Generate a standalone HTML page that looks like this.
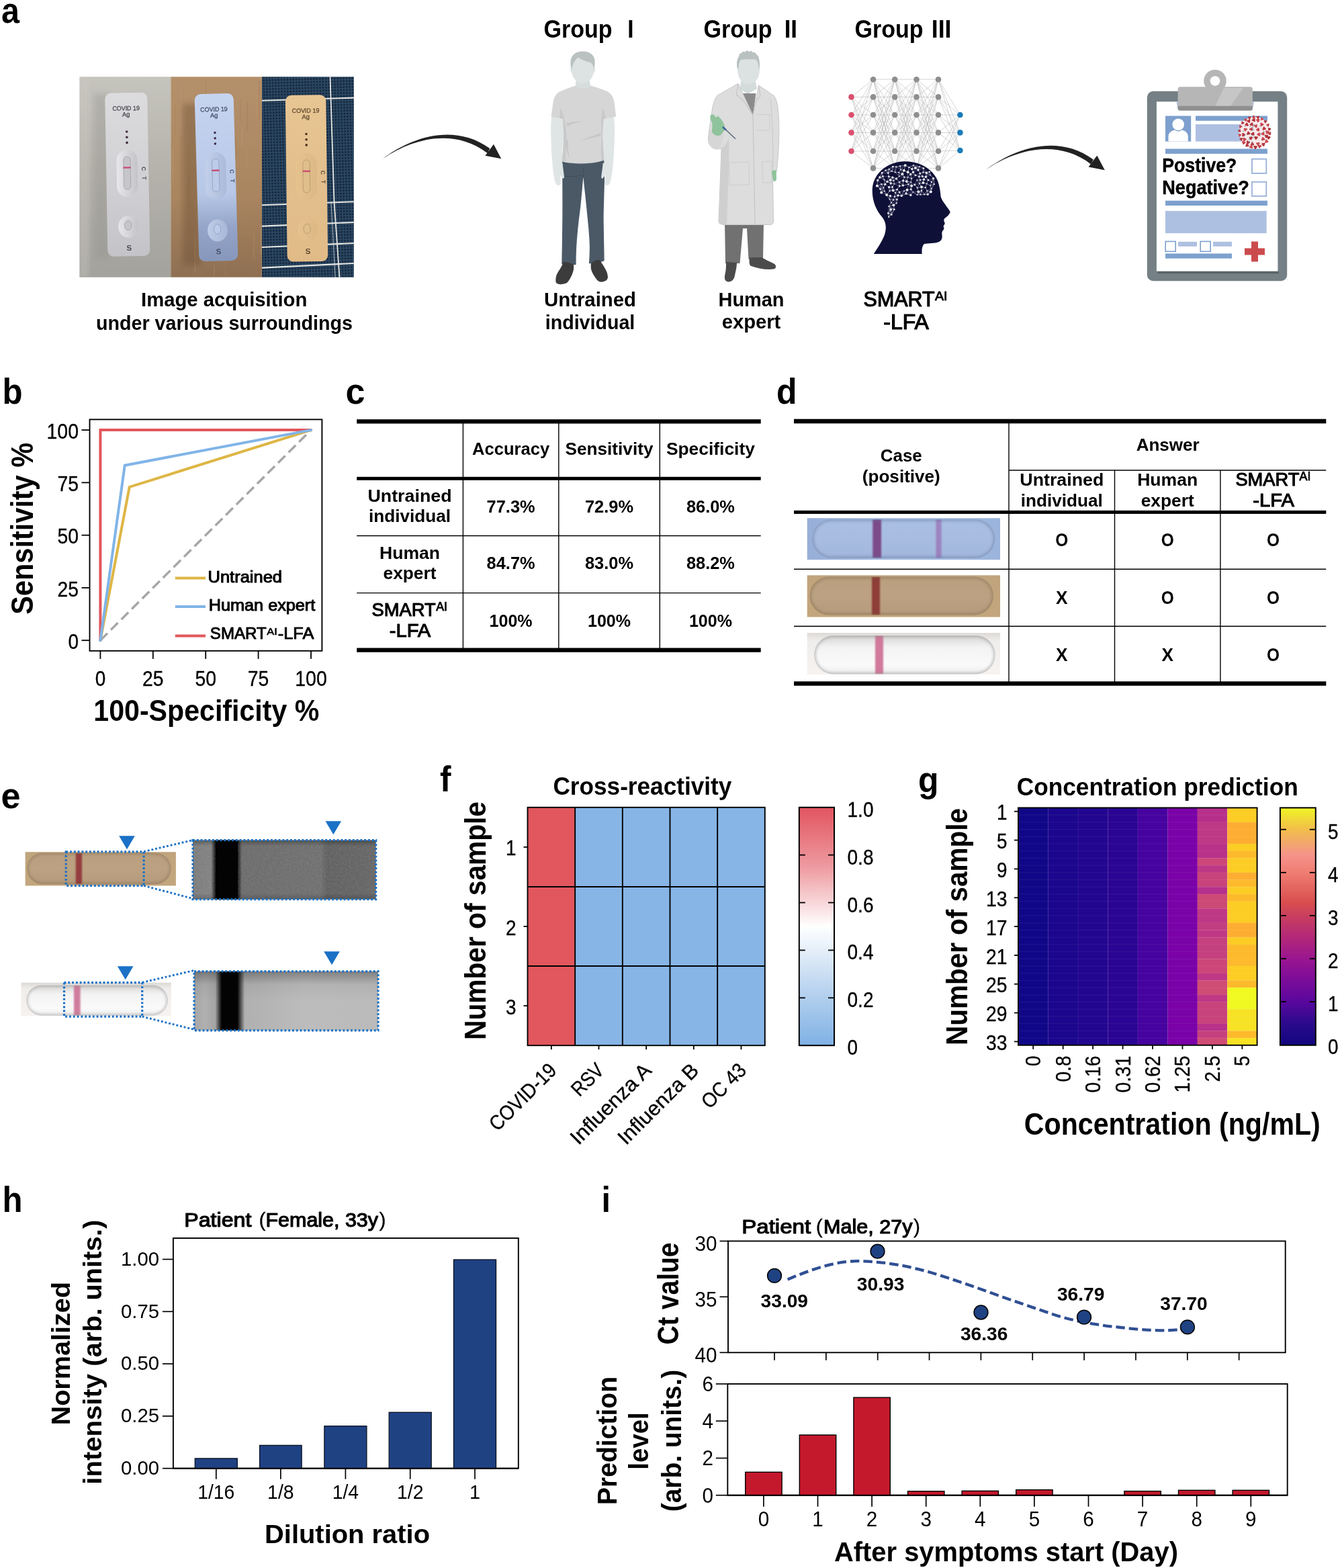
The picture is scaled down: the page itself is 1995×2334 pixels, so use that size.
<!DOCTYPE html>
<html lang="en">
<head>
<meta charset="utf-8">
<title>SMART-AI LFA figure</title>
<style>
html,body{margin:0;padding:0;background:#fff;}
body{width:1995px;height:2334px;overflow:hidden;}
svg{display:block;font-family:"Liberation Sans", "Noto Sans CJK JP", sans-serif;}
text{white-space:pre;}
</style>
</head>
<body>
<svg width="1995" height="2334" viewBox="0 0 1995 2334">
<defs>
<linearGradient id="pa_bg1" x1="0" y1="0" x2="0" y2="1"><stop offset="0" stop-color="#c5c4bd"/><stop offset="0.5" stop-color="#b3b1aa"/><stop offset="1" stop-color="#a3a29c"/></linearGradient>
<linearGradient id="pa_bg2" x1="0" y1="0" x2="0" y2="1"><stop offset="0" stop-color="#b4906b"/><stop offset="0.6" stop-color="#a98560"/><stop offset="1" stop-color="#8f6f52"/></linearGradient>
<linearGradient id="pa_c1" x1="0" y1="0" x2="0" y2="1"><stop offset="0" stop-color="#dcdbdd"/><stop offset="0.6" stop-color="#cfcfd3"/><stop offset="1" stop-color="#c3c3c8"/></linearGradient>
<linearGradient id="pa_c2" x1="0" y1="0" x2="0" y2="1"><stop offset="0" stop-color="#c6d4ef"/><stop offset="0.6" stop-color="#b7c7e7"/><stop offset="0.8" stop-color="#93a4c8"/><stop offset="1" stop-color="#8797bb"/></linearGradient>
<linearGradient id="pa_c3" x1="0" y1="0" x2="0" y2="1"><stop offset="0" stop-color="#e8c693"/><stop offset="0.5" stop-color="#e2bf8d"/><stop offset="1" stop-color="#e1bb87"/></linearGradient>
<linearGradient id="pa_w1" x1="0" y1="0" x2="1" y2="0"><stop offset="0" stop-color="#e9e9ee"/><stop offset="1" stop-color="#c2c2c7"/></linearGradient>
<linearGradient id="pa_w2" x1="0" y1="0" x2="1" y2="0"><stop offset="0" stop-color="#c3d0ea"/><stop offset="1" stop-color="#aab9d8"/></linearGradient>
<linearGradient id="pa_w3" x1="0" y1="0" x2="1" y2="0"><stop offset="0" stop-color="#e6c28f"/><stop offset="1" stop-color="#dcb784"/></linearGradient>
<pattern id="pa_dots" width="4.4" height="4.4" patternUnits="userSpaceOnUse" patternTransform="rotate(-1.5)"><rect width="4.4" height="4.4" fill="#2c4661"/><rect x="0.9" y="0.9" width="2.6" height="2.6" rx="0.8" fill="#13253b"/></pattern>
<filter id="pa_soft" filterUnits="userSpaceOnUse" x="118.4" y="114.3" width="408.4" height="298.4"><feGaussianBlur stdDeviation="0.7"/></filter>
<clipPath id="pa_clip3"><rect x="390" y="114.3" width="136.8" height="298.4"/></clipPath>
<clipPath id="pa_clip2"><rect x="254.4" y="114.3" width="135.6" height="298.4"/></clipPath>
<clipPath id="pa_clip1"><rect x="118.4" y="114.3" width="136" height="298.4"/></clipPath>
<clipPath id="pa_head"><path d="M1348 240.3 C1322 240 1299 258 1298.7 283 C1298.5 300 1305 314 1314 324 C1320 332 1320 342 1316 352 C1312 361 1306 370 1300.8 378 L1372.7 378 C1372 371 1373 366 1376 363 C1382 362 1392 362.5 1398 360 C1402 358 1403 354 1402.6 350.6 C1402.5 348 1402 346 1403 344 C1405 342 1406 340.5 1405 338.5 C1404.5 337 1404.5 336 1405.5 335 C1407 333.5 1407 332 1406 330.5 C1405 328.5 1405 327 1406 325.5 C1409 323 1413 320 1414.5 316.5 C1415 314 1412 311.5 1409 307 C1405 301 1401.5 297 1400.5 292 C1400 285 1399 277 1396 269 C1389 252 1370 240.5 1348 240.3 Z"/></clipPath>
<filter id="blur1" x="-20%" y="-20%" width="140%" height="140%"><feGaussianBlur stdDeviation="0.9"/></filter>
<filter id="blur2" x="-20%" y="-20%" width="140%" height="140%"><feGaussianBlur stdDeviation="2.2"/></filter>
<filter id="blur3" x="-20%" y="-20%" width="140%" height="140%"><feGaussianBlur stdDeviation="4"/></filter>
<linearGradient id="sb_bg" x1="0" y1="0" x2="1" y2="0"><stop offset="0" stop-color="#97afd8"/><stop offset="0.5" stop-color="#a3badf"/><stop offset="1" stop-color="#9bb4dc"/></linearGradient>
<linearGradient id="sb_win" x1="0" y1="0" x2="0" y2="1"><stop offset="0" stop-color="#a9bfe3"/><stop offset="0.5" stop-color="#a7bce0"/><stop offset="1" stop-color="#a2b7dc"/></linearGradient>
<linearGradient id="st_bg" x1="0" y1="0" x2="0" y2="1"><stop offset="0" stop-color="#c0a47c"/><stop offset="1" stop-color="#c3a67d"/></linearGradient>
<linearGradient id="st_win" x1="0" y1="0" x2="0" y2="1"><stop offset="0" stop-color="#b99f7e"/><stop offset="0.5" stop-color="#bca282"/><stop offset="1" stop-color="#b59a7b"/></linearGradient>
<linearGradient id="sw_bg" x1="0" y1="0" x2="0" y2="1"><stop offset="0" stop-color="#dcd9d6"/><stop offset="0.18" stop-color="#efedeb"/><stop offset="1" stop-color="#f6f3f1"/></linearGradient>
<linearGradient id="sw_win" x1="0" y1="0" x2="0" y2="1"><stop offset="0" stop-color="#d6d5d4"/><stop offset="0.3" stop-color="#f4f3f3"/><stop offset="0.75" stop-color="#fbfafa"/><stop offset="1" stop-color="#efeeee"/></linearGradient>
<linearGradient id="et_bg" x1="0" y1="0" x2="0" y2="1"><stop offset="0" stop-color="#c0a47c"/><stop offset="1" stop-color="#c3a67d"/></linearGradient>
<linearGradient id="et_win" x1="0" y1="0" x2="0" y2="1"><stop offset="0" stop-color="#b99f7e"/><stop offset="0.5" stop-color="#bca282"/><stop offset="1" stop-color="#b59a7b"/></linearGradient>
<linearGradient id="ew_bg" x1="0" y1="0" x2="0" y2="1"><stop offset="0" stop-color="#dcd9d6"/><stop offset="0.18" stop-color="#efedeb"/><stop offset="1" stop-color="#f6f3f1"/></linearGradient>
<linearGradient id="ew_win" x1="0" y1="0" x2="0" y2="1"><stop offset="0" stop-color="#d6d5d4"/><stop offset="0.3" stop-color="#f4f3f3"/><stop offset="0.75" stop-color="#fbfafa"/><stop offset="1" stop-color="#efeeee"/></linearGradient>
<linearGradient id="eg1" x1="0" y1="0" x2="1" y2="0"><stop offset="0" stop-color="#7d7d7d"/><stop offset="0.1" stop-color="#838383"/><stop offset="0.128" stop-color="#030303"/><stop offset="0.24" stop-color="#030303"/><stop offset="0.268" stop-color="#6d6d6d"/><stop offset="0.7" stop-color="#717171"/><stop offset="0.73" stop-color="#626262"/><stop offset="0.93" stop-color="#666666"/><stop offset="1" stop-color="#696969"/></linearGradient>
<linearGradient id="eg2" x1="0" y1="0" x2="1" y2="0"><stop offset="0" stop-color="#a6a6a6"/><stop offset="0.06" stop-color="#b0b0b0"/><stop offset="0.115" stop-color="#a4a4a4"/><stop offset="0.15" stop-color="#030303"/><stop offset="0.235" stop-color="#030303"/><stop offset="0.275" stop-color="#b0b0b0"/><stop offset="0.6" stop-color="#bcbcbc"/><stop offset="1" stop-color="#bababa"/></linearGradient>
<linearGradient id="egt" x1="0" y1="0" x2="0" y2="1"><stop offset="0" stop-color="#000" stop-opacity="0.32"/><stop offset="0.22" stop-color="#000" stop-opacity="0.05"/><stop offset="0.5" stop-color="#000" stop-opacity="0"/></linearGradient>
<linearGradient id="egt1" x1="0" y1="0" x2="0" y2="1"><stop offset="0" stop-color="#000" stop-opacity="0.3"/><stop offset="0.1" stop-color="#000" stop-opacity="0"/><stop offset="0.9" stop-color="#000" stop-opacity="0"/><stop offset="1" stop-color="#000" stop-opacity="0.2"/></linearGradient>
<filter id="noise" x="0" y="0" width="100%" height="100%"><feTurbulence type="fractalNoise" baseFrequency="0.35" numOctaves="2" seed="4" result="n"/><feColorMatrix in="n" type="matrix" values="0 0 0 0 0.5  0 0 0 0 0.5  0 0 0 0 0.5  0.9 0 0 0 -0.3"/></filter>
<linearGradient id="cbf" x1="0" y1="0" x2="0" y2="1"><stop offset="0" stop-color="#e25560"/><stop offset="0.25" stop-color="#ee9aa0"/><stop offset="0.5" stop-color="#ffffff"/><stop offset="0.75" stop-color="#bdd6f0"/><stop offset="1" stop-color="#7fb1e4"/></linearGradient>
<linearGradient id="cbg" x1="0" y1="1" x2="0" y2="0"><stop offset="0" stop-color="#12067e"/><stop offset="0.09" stop-color="#2a0a8b"/><stop offset="0.18" stop-color="#58079e"/><stop offset="0.27" stop-color="#7a0c9a"/><stop offset="0.364" stop-color="#9a1590"/><stop offset="0.455" stop-color="#b22878"/><stop offset="0.545" stop-color="#c93f5f"/><stop offset="0.6" stop-color="#d84e4e"/><stop offset="0.727" stop-color="#ef7d72"/><stop offset="0.8" stop-color="#f5928a"/><stop offset="0.873" stop-color="#f2b060"/><stop offset="0.915" stop-color="#f2c148"/><stop offset="1" stop-color="#f0f524"/></linearGradient>
</defs>
<rect x="0" y="0" width="1995" height="2334" fill="#ffffff"/>
<g id="pa">
<text x="2" y="34" font-size="51" font-weight="bold" textLength="27" lengthAdjust="spacingAndGlyphs">a</text>
<g filter="url(#pa_soft)">
<rect x="118.4" y="114.3" width="136.2" height="298.4" fill="url(#pa_bg1)"/>
<g clip-path="url(#pa_clip1)">
<rect x="140" y="140" width="24" height="245" fill="#8f8d88" opacity="0.3" filter="url(#blur3)"/>
<rect x="118" y="114" width="14" height="300" fill="#cfcdc6" opacity="0.35" filter="url(#blur3)"/>
</g>
<rect x="254.4" y="114.3" width="135.8" height="298.4" fill="url(#pa_bg2)"/>
<g clip-path="url(#pa_clip2)">
<rect x="316.07" y="274.09" width="1.45" height="75.45" fill="#bf9b76" opacity="0.45"/>
<rect x="279.93" y="260.41" width="1.91" height="57.79" fill="#9c7855" opacity="0.45"/>
<rect x="315.29" y="154.55" width="2.05" height="52.32" fill="#9c7855" opacity="0.45"/>
<rect x="335.38" y="227.3" width="1.83" height="47.18" fill="#bf9b76" opacity="0.45"/>
<rect x="339.12" y="351.87" width="0.85" height="23.79" fill="#bf9b76" opacity="0.45"/>
<rect x="335.95" y="336.54" width="1.63" height="39.58" fill="#bf9b76" opacity="0.45"/>
<rect x="325.08" y="297.12" width="1.73" height="49.99" fill="#c2a07c" opacity="0.45"/>
<rect x="343.4" y="230.34" width="2.1" height="53.08" fill="#9c7855" opacity="0.45"/>
<rect x="350.55" y="204.17" width="1.2" height="33.78" fill="#9c7855" opacity="0.45"/>
<rect x="331.02" y="144.87" width="1.21" height="26.47" fill="#9c7855" opacity="0.45"/>
<rect x="384.34" y="356.33" width="1.09" height="20.03" fill="#9c7855" opacity="0.45"/>
<rect x="318.45" y="394.38" width="0.9" height="43.85" fill="#bf9b76" opacity="0.45"/>
<rect x="360.1" y="191.16" width="1.27" height="25.23" fill="#c2a07c" opacity="0.45"/>
<rect x="357.34" y="147.75" width="0.94" height="34.78" fill="#9c7855" opacity="0.45"/>
<rect x="317.77" y="253.23" width="1.06" height="60.92" fill="#bf9b76" opacity="0.45"/>
<rect x="388.01" y="334.08" width="1.34" height="45.15" fill="#c2a07c" opacity="0.45"/>
<rect x="311.8" y="174.88" width="2.16" height="36.19" fill="#a27d59" opacity="0.45"/>
<rect x="389.72" y="119.61" width="2.19" height="31.24" fill="#9c7855" opacity="0.45"/>
<rect x="260.68" y="155.86" width="0.81" height="46.49" fill="#a27d59" opacity="0.45"/>
<rect x="367.09" y="224.44" width="1.09" height="24.46" fill="#bf9b76" opacity="0.45"/>
<rect x="257.09" y="219.44" width="0.98" height="57.33" fill="#c2a07c" opacity="0.45"/>
<rect x="367.37" y="152.82" width="1.68" height="43.17" fill="#a27d59" opacity="0.45"/>
<rect x="377.64" y="347.89" width="1.07" height="34.97" fill="#bf9b76" opacity="0.45"/>
<rect x="347.74" y="225.03" width="0.91" height="48.95" fill="#9c7855" opacity="0.45"/>
<rect x="269.02" y="125.07" width="1.13" height="77.76" fill="#c2a07c" opacity="0.45"/>
<rect x="289.69" y="349.58" width="1.21" height="55.79" fill="#bf9b76" opacity="0.45"/>
<rect x="380.45" y="393.47" width="1.47" height="27.58" fill="#9c7855" opacity="0.45"/>
<rect x="292.83" y="376.37" width="0.82" height="32.24" fill="#a27d59" opacity="0.45"/>
<rect x="310.54" y="185.23" width="1.19" height="22.8" fill="#bf9b76" opacity="0.45"/>
<rect x="267.45" y="153.58" width="1.26" height="47.02" fill="#bf9b76" opacity="0.45"/>
<rect x="334.63" y="378.15" width="1.3" height="48.49" fill="#a27d59" opacity="0.45"/>
<rect x="384.97" y="120.08" width="1.48" height="58.17" fill="#a27d59" opacity="0.45"/>
<rect x="298.05" y="399.82" width="1.56" height="24.52" fill="#9c7855" opacity="0.45"/>
<rect x="376.53" y="324.81" width="1.91" height="62.22" fill="#a27d59" opacity="0.45"/>
<rect x="302.5" y="309.95" width="2.02" height="74.05" fill="#c2a07c" opacity="0.45"/>
<rect x="382.47" y="122.66" width="0.82" height="50" fill="#c2a07c" opacity="0.45"/>
<rect x="306.19" y="117.56" width="0.93" height="24.33" fill="#9c7855" opacity="0.45"/>
<rect x="389.1" y="365.62" width="1.34" height="63.69" fill="#c2a07c" opacity="0.45"/>
<rect x="314.47" y="353.77" width="1.85" height="25.03" fill="#9c7855" opacity="0.45"/>
<rect x="296.88" y="139.09" width="2.14" height="21.34" fill="#9c7855" opacity="0.45"/>
<rect x="272" y="155" width="26" height="240" fill="#5f432c" opacity="0.32" filter="url(#blur3)"/>
</g>
<rect x="390" y="114.3" width="136.8" height="298.4" fill="url(#pa_dots)"/>
<g clip-path="url(#pa_clip3)">
<line x1="390" y1="149.8" x2="527" y2="145.6" stroke="#e6e7e2" stroke-width="2.1"/>
<line x1="390" y1="305.2" x2="527" y2="300.2" stroke="#e6e7e2" stroke-width="2.1"/>
<line x1="390" y1="336.6" x2="527" y2="331" stroke="#e6e7e2" stroke-width="2.1"/>
<line x1="390" y1="368" x2="527" y2="362" stroke="#e6e7e2" stroke-width="2.1"/>
<line x1="390" y1="398.6" x2="527" y2="392" stroke="#e6e7e2" stroke-width="2.1"/>
<line x1="491.5" y1="114" x2="497.5" y2="300" stroke="#e6e7e2" stroke-width="1.8"/>
<line x1="497.5" y1="300" x2="505.5" y2="413" stroke="#e6e7e2" stroke-width="1.8"/>
<line x1="493" y1="300" x2="499" y2="413" stroke="#e6e7e2" stroke-width="1.2" opacity="0.6"/>
</g>
<g transform="rotate(-1 189.8 259.75)">
<rect x="158.3" y="138" width="63" height="243.5" fill="url(#pa_c1)" rx="9"/>
<text x="189.3" y="164.3" font-size="9.2" text-anchor="middle" textLength="40.5" lengthAdjust="spacingAndGlyphs" fill="#4b4b52" stroke="#4b4b52" stroke-width="0.3">COVID 19</text>
<text x="189.3" y="173.3" font-size="9.2" text-anchor="middle" textLength="11.5" lengthAdjust="spacingAndGlyphs" fill="#4b4b52" stroke="#4b4b52" stroke-width="0.3">Ag</text>
<circle cx="189.8" cy="196" r="1.8" fill="#3d2c3c"/>
<circle cx="189.8" cy="204.2" r="1.8" fill="#3d2c3c"/>
<circle cx="189.8" cy="212.4" r="1.8" fill="#3d2c3c"/>
<rect x="173.8" y="223" width="31" height="70" fill="url(#pa_w1)" rx="15.5" opacity="0.9"/>
<rect x="184.1" y="233" width="10.4" height="49" fill="#c6c6ca" rx="5.2" stroke="#4b4b52" stroke-width="0.8" stroke-opacity="0.35"/>
<rect x="183.7" y="248.4" width="11.2" height="2.3" fill="#c9486f"/>
<text x="211.3" y="251.8" font-size="8.5" font-weight="bold" text-anchor="middle" transform="rotate(90 211.3 251.8)" fill="#4b4b52">C</text>
<text x="211.8" y="265.5" font-size="8.5" font-weight="bold" text-anchor="middle" transform="rotate(90 211.8 265.5)" fill="#4b4b52">T</text>
<ellipse cx="189.8" cy="337.5" rx="15" ry="16.5" fill="url(#pa_w1)" opacity="0.9"/>
<ellipse cx="189.3" cy="335.5" rx="5.2" ry="7.2" fill="#c6c6ca" stroke="#4b4b52" stroke-width="0.8" stroke-opacity="0.35"/>
<text x="190.3" y="373" font-size="11.5" font-weight="bold" text-anchor="middle" fill="#4b4b52">S</text>
</g>
<g transform="rotate(-1.6 322 264)">
<rect x="293" y="139.5" width="58" height="249" fill="url(#pa_c2)" rx="9"/>
<text x="321.3" y="165.8" font-size="9.2" text-anchor="middle" textLength="40.5" lengthAdjust="spacingAndGlyphs" fill="#47506a" stroke="#47506a" stroke-width="0.3">COVID 19</text>
<text x="321.3" y="174.8" font-size="9.2" text-anchor="middle" textLength="11.5" lengthAdjust="spacingAndGlyphs" fill="#47506a" stroke="#47506a" stroke-width="0.3">Ag</text>
<circle cx="321.8" cy="197.5" r="1.8" fill="#3d2c4c"/>
<circle cx="321.8" cy="205.7" r="1.8" fill="#3d2c4c"/>
<circle cx="321.8" cy="213.9" r="1.8" fill="#3d2c4c"/>
<rect x="305.8" y="226.5" width="31" height="70" fill="url(#pa_w2)" rx="15.5" opacity="0.9"/>
<rect x="316.1" y="236.5" width="10.4" height="49" fill="#bccbe8" rx="5.2" stroke="#47506a" stroke-width="0.8" stroke-opacity="0.35"/>
<rect x="315.7" y="252.5" width="11.2" height="2.3" fill="#c9486f"/>
<text x="342.6" y="255.9" font-size="8.5" font-weight="bold" text-anchor="middle" transform="rotate(90 342.6 255.9)" fill="#47506a">C</text>
<text x="343.1" y="269.6" font-size="8.5" font-weight="bold" text-anchor="middle" transform="rotate(90 343.1 269.6)" fill="#47506a">T</text>
<ellipse cx="321.8" cy="343" rx="15" ry="16.5" fill="url(#pa_w2)" opacity="0.9"/>
<ellipse cx="321.3" cy="341" rx="5.2" ry="7.2" fill="#bccbe8" stroke="#47506a" stroke-width="0.8" stroke-opacity="0.35"/>
<text x="322.3" y="378.5" font-size="11.5" font-weight="bold" text-anchor="middle" fill="#47506a">S</text>
</g>
<g transform="rotate(-0.7 456.5 265.4)">
<rect x="426.25" y="141.5" width="60.5" height="247.8" fill="url(#pa_c3)" rx="9"/>
<text x="456.3" y="167.8" font-size="9.2" text-anchor="middle" textLength="40.5" lengthAdjust="spacingAndGlyphs" fill="#5f4a30" stroke="#5f4a30" stroke-width="0.3">COVID 19</text>
<text x="456.3" y="176.8" font-size="9.2" text-anchor="middle" textLength="11.5" lengthAdjust="spacingAndGlyphs" fill="#5f4a30" stroke="#5f4a30" stroke-width="0.3">Ag</text>
<circle cx="456.8" cy="199.5" r="1.8" fill="#4a2f1f"/>
<circle cx="456.8" cy="207.7" r="1.8" fill="#4a2f1f"/>
<circle cx="456.8" cy="215.9" r="1.8" fill="#4a2f1f"/>
<rect x="440.8" y="228" width="31" height="70" fill="url(#pa_w3)" rx="15.5" opacity="0.9"/>
<rect x="451.1" y="238" width="10.4" height="49" fill="#e0bd8c" rx="5.2" stroke="#5f4a30" stroke-width="0.8" stroke-opacity="0.35"/>
<rect x="450.7" y="253.7" width="11.2" height="2.3" fill="#c9486f"/>
<text x="478" y="257.1" font-size="8.5" font-weight="bold" text-anchor="middle" transform="rotate(90 478 257.1)" fill="#5f4a30">C</text>
<text x="478.5" y="270.8" font-size="8.5" font-weight="bold" text-anchor="middle" transform="rotate(90 478.5 270.8)" fill="#5f4a30">T</text>
<ellipse cx="456.8" cy="342.5" rx="15" ry="16.5" fill="url(#pa_w3)" opacity="0.9"/>
<ellipse cx="456.3" cy="340.5" rx="5.2" ry="7.2" fill="#e0bd8c" stroke="#5f4a30" stroke-width="0.8" stroke-opacity="0.35"/>
<text x="457.3" y="378" font-size="11.5" font-weight="bold" text-anchor="middle" fill="#5f4a30">S</text>
</g>
</g>
<path d="M570 236.3 C612 204.5 676 182.5 729.3 221.1 L725.7 227.9 C674.5 189 612 207.5 570 236.3 Z" fill="#222"/>
<path d="M735 214.8 L722.4 231.8 L746.2 236.3 Z" fill="#222"/>
<path d="M1468 252.5 C1512 219.5 1576 199.5 1627.8 237.6 L1624.2 244.4 C1574.5 206 1512 222.5 1468 252.5 Z" fill="#222"/>
<path d="M1633.3 231.6 L1620.6 248.6 L1644.8 253.2 Z" fill="#222"/>
<g>
<path d="M821.3 173 C820 185 820 195 820.3 203 C820.5 215 821 226 821.8 235 C822.5 243 823 250 824 256 C824.8 263 825.5 268 827.2 272 C828.5 275 830 276 831.8 275.6 C833.8 275.2 834.8 274 834.6 272 C834.4 268 834 264 834.3 260 C835.5 262 836.5 264.5 837.8 265.6 C839.5 266 840.2 264.5 839.9 262.5 C839.3 257 838.3 251 837.8 245.5 C837.3 238 837 231 837.2 224 C837.5 215 839.5 206 839.9 198 C840.2 190 840 183 839.6 176 Z" fill="#dfe5e5"/>
<g transform="translate(1735.2 0) scale(-1 1)"><path d="M821.3 173 C820 185 820 195 820.3 203 C820.5 215 821 226 821.8 235 C822.5 243 823 250 824 256 C824.8 263 825.5 268 827.2 272 C828.5 275 830 276 831.8 275.6 C833.8 275.2 834.8 274 834.6 272 C834.4 268 834 264 834.3 260 C835.5 262 836.5 264.5 837.8 265.6 C839.5 266 840.2 264.5 839.9 262.5 C839.3 257 838.3 251 837.8 245.5 C837.3 238 837 231 837.2 224 C837.5 215 839.5 206 839.9 198 C840.2 190 840 183 839.6 176 Z" fill="#dfe5e5"/></g>
<path d="M858 116 L877 116 L879.5 130 L868 135 L856.5 130 Z" fill="#d6dddd"/>
<path d="M856.5 127.5 C861 133.5 874 133.5 879.5 127.5 C888 130 897 133 904 136 C910 139 913 144 914.5 152 L917.2 173.5 L898.5 177 C898 186 897.2 194 897 202 C897.5 216 899 229 899.3 239 C880 244.5 856 245 837 241 C837.5 230 838.8 216 839.3 202 C839.2 194 838.6 186 838.2 177 L820.5 173.5 L823.5 152 C825 144 828 139 834 136 C841 133 849 130 856.5 127.5 Z" fill="#d6d6d6"/>
<path d="M834 160 C837 166 839 172 840.5 178 C842 186 843 195 843.5 203 C843 215 842 228 842 240 L837 241 C837.5 230 838.8 216 839.3 202 C839.2 194 838.6 186 838.2 177 L833.5 176 Z" fill="#c9c9c9"/>
<path d="M897.5 160 C896 168 895 176 895 184 C895.5 196 896 210 894.5 222 C895 230 895.5 236 895.5 240 L899.3 239 C899 229 897.5 216 897 202 C897.2 194 898 186 898.5 177 L902 176 Z" fill="#c9c9c9"/>
<path d="M843 184 C851 181 859 181 868 180.5 C859 182.5 851 184 845 188 Z M894 198 C885 202 874 205 864 209 C873 207.5 884 205 894.5 202 Z M843 207 C842 216 843 226 848 236 C846 227 845 217 845.5 208 Z" fill="#c6c6c6"/>
<path d="M837 240.8 C856 245 880 244.5 899.1 238.7 C899.8 250 900.2 260 900 268.6 C899.5 290 898.8 310 898.6 326.5 C898.8 337 899 346 899.1 355.5 C899.3 367 899.6 378 899.6 388.3 C893 391 884 392.5 876.9 392.2 C877.8 380 878.3 368 877.4 355.5 C876.8 346 876 336 874.9 326.5 C874 317 873 307 872 297.6 C870.8 286 869.5 274 868.4 263.5 C867 278 865.8 293 864.3 307.2 C863.5 314 862.8 320 861.9 326.5 C860.8 336 859.8 346 859 355.5 C858 368 857.5 381 857.6 394.1 C851 394.6 843 394 836.3 393.1 C836.5 380 836.8 368 836.9 355.5 C837 346 837.2 336 837.3 326.5 C837.5 300 837.3 270 837 240.8 Z" fill="#4b5967"/>
<path d="M868.3 250 L868.4 263.5 M842 262 C850 263 858 262.5 866 261" fill="none" stroke="#3f4c59" stroke-width="1.1"/>
<clipPath id="pa_hand"><rect x="810" y="243" width="120" height="40"/></clipPath>
<g clip-path="url(#pa_hand)"><path d="M821.3 173 C820 185 820 195 820.3 203 C820.5 215 821 226 821.8 235 C822.5 243 823 250 824 256 C824.8 263 825.5 268 827.2 272 C828.5 275 830 276 831.8 275.6 C833.8 275.2 834.8 274 834.6 272 C834.4 268 834 264 834.3 260 C835.5 262 836.5 264.5 837.8 265.6 C839.5 266 840.2 264.5 839.9 262.5 C839.3 257 838.3 251 837.8 245.5 C837.3 238 837 231 837.2 224 C837.5 215 839.5 206 839.9 198 C840.2 190 840 183 839.6 176 Z" fill="#dfe5e5"/><g transform="translate(1735.2 0) scale(-1 1)"><path d="M821.3 173 C820 185 820 195 820.3 203 C820.5 215 821 226 821.8 235 C822.5 243 823 250 824 256 C824.8 263 825.5 268 827.2 272 C828.5 275 830 276 831.8 275.6 C833.8 275.2 834.8 274 834.6 272 C834.4 268 834 264 834.3 260 C835.5 262 836.5 264.5 837.8 265.6 C839.5 266 840.2 264.5 839.9 262.5 C839.3 257 838.3 251 837.8 245.5 C837.3 238 837 231 837.2 224 C837.5 215 839.5 206 839.9 198 C840.2 190 840 183 839.6 176 Z" fill="#dfe5e5"/></g></g>
<path d="M838.3 390.2 C837 396 834 400 831.5 403.7 C829.5 407 828 410 827.6 413.4 C827 417 827.3 420.5 828.6 421.6 C831 423.4 834 423.5 836.3 423.1 C839 422.7 842 422.3 844.1 421.1 C847.5 418 849.8 413 851.8 408.6 C853 405 854 402 854.2 398.9 C854.3 397 854.2 395.5 853.7 394.1 C849 391 843 389.5 838.3 390.2 Z" fill="#3c3c3c"/>
<path d="M879.8 392.2 C879.6 395.5 879.6 399 880.3 401.8 C881.8 406.5 884 410 886.5 413.4 C888.2 416 890 418 892.3 419.2 C895.5 420.2 898.5 419.5 901 418.2 C903 417.2 904.5 415.5 904.9 413.4 C905 410 904.2 406.5 902.9 403.7 C901 399.5 898.5 395.5 896.2 392.2 C895 390 893.5 387.8 891.4 386.4 C887 387 882.5 389 879.8 392.2 Z" fill="#3c3c3c"/>
<path d="M850.5 100 C850.5 90 857 84 867.5 84 C878 84 884.8 90 884.8 100 C885.8 100.5 886.3 102 885.9 104 C885.6 106.5 884.8 108.5 883.6 109 C882.5 115 879 119.5 874 122.3 C870 124.5 865 124.5 861 122.3 C856 119.5 852.8 115 851.6 109 C850.2 108.5 849.5 106.5 849.2 104 C848.9 102 849.4 100.5 850.5 100 Z" fill="#dde3e3"/>
<path d="M851 103 C848.5 95 848.8 88 852.5 83 C856 78.5 861.5 76.4 867.5 76.6 C874 76.4 879.5 78.8 883 83 C886.3 88 886.3 95 884.2 103 C883.6 98.5 882.5 95.5 880 93.5 C874 92 866 89 860.2 85.8 C856.5 89 853.5 94 852.2 99 Z" fill="#b9c1c1"/>
</g>
<g>
<path d="M1079 330 L1137 330 L1136 386 L1114.5 386 L1112 340 L1106 340 L1101.5 392 L1080 392 Z" fill="#717171"/>
<path d="M1081 390 L1097 391 C1097 398 1095 404 1094 410 C1093 416 1089 420 1084 419.5 C1079 419 1078 414 1079.5 408 C1081 402 1081 396 1081 390 Z" fill="#4b4b4b"/>
<path d="M1116 383.5 L1134 383 C1140 387 1148 390 1153 393 C1156 395 1156 399.5 1152 400.5 C1142 402 1128 400 1117 395.5 C1115 392 1115.5 388 1116 383.5 Z" fill="#4b4b4b"/>
<path d="M1104 118 L1124 118 L1127 132 L1113 140 L1101 132 Z" fill="#d3dbdb"/>
<path d="M1104 139 L1125.5 139 L1121 172 Z" fill="#8b8b8b"/>
<path d="M1099 124.5 L1069 141.5 C1063 146 1061 158 1059 172 C1057 188 1054 203 1054.5 208 C1055 216 1060 222 1068 222 L1074 221 C1073 255 1071 300 1070 330 C1071 333 1074 334.5 1078 334.5 L1147 334.5 C1150 334 1151.5 332 1151.5 329 L1150.5 268 L1156 256 C1159 235 1160.5 200 1159.5 178 C1158.5 160 1157 148 1152 142.5 L1129.5 127 L1121 171.5 Z" fill="#dddddd" stroke="#c6c6c6" stroke-width="1"/>
<path d="M1074 221 C1078 219 1082 214 1085 206 C1086 230 1084 280 1082 334 L1071 334 C1071.5 300 1073 255 1074 221 Z" fill="#cfcfcf"/>
<path d="M1147 148 C1150 170 1151 210 1150.5 252" fill="none" stroke="#c9c9c9" stroke-width="1.1"/>
<path d="M1099 124.5 L1096.5 141 L1107 150 L1121 171.5 M1129.5 127 L1132 143 L1125 151 L1121 171.5 L1124 334" fill="none" stroke="#c3c3c3" stroke-width="1.1"/>
<path d="M1125 171 L1146 170 L1146 194 L1125.5 194 M1085.5 242 L1115 241 L1115.5 275 L1086 275.5 Z M1135 241 L1149 240 L1149 272 L1135.5 272 Z" fill="none" stroke="#cdcdcd" stroke-width="1"/>
<path d="M1055 205 C1056 195 1060 190 1066 187 L1078 200 C1076 208 1074 216 1070 222 C1062 222 1056 215 1055 205 Z" fill="#d6d6d6"/>
<path d="M1058 171 L1062 170 L1066 175 L1069 172.5 L1074 178 C1078 183 1080 189 1078.5 194 L1073 201 C1068 203.5 1062 201 1060 196 C1060 190 1061 186 1060 182 C1058 179 1056.5 175 1058 171 Z" fill="#8fc39b"/>
<path d="M1076 189 L1081 193.5" fill="none" stroke="#3d62a0" stroke-width="2.6"/>
<path d="M1080.5 193 L1095 206.8" fill="none" stroke="#5a6675" stroke-width="1.5"/>
<path d="M1149 254 L1155.5 253 L1156 266 C1156 269 1154 270.5 1152 270 C1150 266 1149 260 1149 254 Z" fill="#8fc39b"/>
<ellipse cx="1114.5" cy="104" rx="16.5" ry="22" fill="#dce2e2"/>
<path d="M1098 103 C1096 96 1097 88 1100 84 L1101 80 L1104 79 L1106 76.5 L1109 77.5 L1112 75 L1115 77 L1118 75.5 L1121 78 L1124 78 L1126 81 L1128.5 83 C1131 88 1131.5 96 1130.5 103 L1129.5 102 C1129.5 96 1128 91 1125 88.5 C1117 88 1108 88 1103 89 C1100.5 92 1099.5 97 1099.5 102 Z" fill="#b9c1c1"/>
</g>
<path d="M1267.5 144.4L1300 118.2M1267.5 144.4L1300 144.4M1267.5 144.4L1300 171M1267.5 144.4L1300 197.4M1267.5 144.4L1300 225M1267.5 144.4L1300 250.4M1267.5 171L1300 118.2M1267.5 171L1300 144.4M1267.5 171L1300 171M1267.5 171L1300 197.4M1267.5 171L1300 225M1267.5 171L1300 250.4M1267.5 197.4L1300 118.2M1267.5 197.4L1300 144.4M1267.5 197.4L1300 171M1267.5 197.4L1300 197.4M1267.5 197.4L1300 225M1267.5 197.4L1300 250.4M1267.5 225L1300 118.2M1267.5 225L1300 144.4M1267.5 225L1300 171M1267.5 225L1300 197.4M1267.5 225L1300 225M1267.5 225L1300 250.4M1300 118.2L1332.2 118.2M1300 118.2L1332.2 144.4M1300 118.2L1332.2 171M1300 118.2L1332.2 197.4M1300 118.2L1332.2 225M1300 118.2L1332.2 250.4M1300 144.4L1332.2 118.2M1300 144.4L1332.2 144.4M1300 144.4L1332.2 171M1300 144.4L1332.2 197.4M1300 144.4L1332.2 225M1300 144.4L1332.2 250.4M1300 171L1332.2 118.2M1300 171L1332.2 144.4M1300 171L1332.2 171M1300 171L1332.2 197.4M1300 171L1332.2 225M1300 171L1332.2 250.4M1300 197.4L1332.2 118.2M1300 197.4L1332.2 144.4M1300 197.4L1332.2 171M1300 197.4L1332.2 197.4M1300 197.4L1332.2 225M1300 197.4L1332.2 250.4M1300 225L1332.2 118.2M1300 225L1332.2 144.4M1300 225L1332.2 171M1300 225L1332.2 197.4M1300 225L1332.2 225M1300 225L1332.2 250.4M1300 250.4L1332.2 118.2M1300 250.4L1332.2 144.4M1300 250.4L1332.2 171M1300 250.4L1332.2 197.4M1300 250.4L1332.2 225M1300 250.4L1332.2 250.4M1332.2 118.2L1364.5 118.2M1332.2 118.2L1364.5 144.4M1332.2 118.2L1364.5 171M1332.2 118.2L1364.5 197.4M1332.2 118.2L1364.5 225M1332.2 118.2L1364.5 250.4M1332.2 144.4L1364.5 118.2M1332.2 144.4L1364.5 144.4M1332.2 144.4L1364.5 171M1332.2 144.4L1364.5 197.4M1332.2 144.4L1364.5 225M1332.2 144.4L1364.5 250.4M1332.2 171L1364.5 118.2M1332.2 171L1364.5 144.4M1332.2 171L1364.5 171M1332.2 171L1364.5 197.4M1332.2 171L1364.5 225M1332.2 171L1364.5 250.4M1332.2 197.4L1364.5 118.2M1332.2 197.4L1364.5 144.4M1332.2 197.4L1364.5 171M1332.2 197.4L1364.5 197.4M1332.2 197.4L1364.5 225M1332.2 197.4L1364.5 250.4M1332.2 225L1364.5 118.2M1332.2 225L1364.5 144.4M1332.2 225L1364.5 171M1332.2 225L1364.5 197.4M1332.2 225L1364.5 225M1332.2 225L1364.5 250.4M1332.2 250.4L1364.5 118.2M1332.2 250.4L1364.5 144.4M1332.2 250.4L1364.5 171M1332.2 250.4L1364.5 197.4M1332.2 250.4L1364.5 225M1332.2 250.4L1364.5 250.4M1364.5 118.2L1397 118.2M1364.5 118.2L1397 144.4M1364.5 118.2L1397 171M1364.5 118.2L1397 197.4M1364.5 118.2L1397 225M1364.5 118.2L1397 250.4M1364.5 144.4L1397 118.2M1364.5 144.4L1397 144.4M1364.5 144.4L1397 171M1364.5 144.4L1397 197.4M1364.5 144.4L1397 225M1364.5 144.4L1397 250.4M1364.5 171L1397 118.2M1364.5 171L1397 144.4M1364.5 171L1397 171M1364.5 171L1397 197.4M1364.5 171L1397 225M1364.5 171L1397 250.4M1364.5 197.4L1397 118.2M1364.5 197.4L1397 144.4M1364.5 197.4L1397 171M1364.5 197.4L1397 197.4M1364.5 197.4L1397 225M1364.5 197.4L1397 250.4M1364.5 225L1397 118.2M1364.5 225L1397 144.4M1364.5 225L1397 171M1364.5 225L1397 197.4M1364.5 225L1397 225M1364.5 225L1397 250.4M1364.5 250.4L1397 118.2M1364.5 250.4L1397 144.4M1364.5 250.4L1397 171M1364.5 250.4L1397 197.4M1364.5 250.4L1397 225M1364.5 250.4L1397 250.4M1397 118.2L1429.4 171M1397 118.2L1429.4 197.4M1397 118.2L1429.4 224M1397 144.4L1429.4 171M1397 144.4L1429.4 197.4M1397 144.4L1429.4 224M1397 171L1429.4 171M1397 171L1429.4 197.4M1397 171L1429.4 224M1397 197.4L1429.4 171M1397 197.4L1429.4 197.4M1397 197.4L1429.4 224M1397 225L1429.4 171M1397 225L1429.4 197.4M1397 225L1429.4 224M1397 250.4L1429.4 171M1397 250.4L1429.4 197.4M1397 250.4L1429.4 224" fill="none" stroke="#b4b4b4" stroke-width="0.7" opacity="0.8"/>
<circle cx="1267.5" cy="144.4" r="4.3" fill="#d9506f"/>
<circle cx="1267.5" cy="171" r="4.3" fill="#d9506f"/>
<circle cx="1267.5" cy="197.4" r="4.3" fill="#d9506f"/>
<circle cx="1267.5" cy="225" r="4.3" fill="#d9506f"/>
<circle cx="1300" cy="118.2" r="4.3" fill="#8e8e8e"/>
<circle cx="1300" cy="144.4" r="4.3" fill="#8e8e8e"/>
<circle cx="1300" cy="171" r="4.3" fill="#8e8e8e"/>
<circle cx="1300" cy="197.4" r="4.3" fill="#8e8e8e"/>
<circle cx="1300" cy="225" r="4.3" fill="#8e8e8e"/>
<circle cx="1300" cy="250.4" r="4.3" fill="#8e8e8e"/>
<circle cx="1332.2" cy="118.2" r="4.3" fill="#8e8e8e"/>
<circle cx="1332.2" cy="144.4" r="4.3" fill="#8e8e8e"/>
<circle cx="1332.2" cy="171" r="4.3" fill="#8e8e8e"/>
<circle cx="1332.2" cy="197.4" r="4.3" fill="#8e8e8e"/>
<circle cx="1332.2" cy="225" r="4.3" fill="#8e8e8e"/>
<circle cx="1332.2" cy="250.4" r="4.3" fill="#8e8e8e"/>
<circle cx="1364.5" cy="118.2" r="4.3" fill="#8e8e8e"/>
<circle cx="1364.5" cy="144.4" r="4.3" fill="#8e8e8e"/>
<circle cx="1364.5" cy="171" r="4.3" fill="#8e8e8e"/>
<circle cx="1364.5" cy="197.4" r="4.3" fill="#8e8e8e"/>
<circle cx="1364.5" cy="225" r="4.3" fill="#8e8e8e"/>
<circle cx="1364.5" cy="250.4" r="4.3" fill="#8e8e8e"/>
<circle cx="1397" cy="118.2" r="4.3" fill="#8e8e8e"/>
<circle cx="1397" cy="144.4" r="4.3" fill="#8e8e8e"/>
<circle cx="1397" cy="171" r="4.3" fill="#8e8e8e"/>
<circle cx="1397" cy="197.4" r="4.3" fill="#8e8e8e"/>
<circle cx="1397" cy="225" r="4.3" fill="#8e8e8e"/>
<circle cx="1397" cy="250.4" r="4.3" fill="#8e8e8e"/>
<circle cx="1429.4" cy="171" r="4.3" fill="#1b7bb8"/>
<circle cx="1429.4" cy="197.4" r="4.3" fill="#1b7bb8"/>
<circle cx="1429.4" cy="224" r="4.3" fill="#1b7bb8"/>
<path d="M1348 240.3 C1322 240 1299 258 1298.7 283 C1298.5 300 1305 314 1314 324 C1320 332 1320 342 1316 352 C1312 361 1306 370 1300.8 378 L1372.7 378 C1372 371 1373 366 1376 363 C1382 362 1392 362.5 1398 360 C1402 358 1403 354 1402.6 350.6 C1402.5 348 1402 346 1403 344 C1405 342 1406 340.5 1405 338.5 C1404.5 337 1404.5 336 1405.5 335 C1407 333.5 1407 332 1406 330.5 C1405 328.5 1405 327 1406 325.5 C1409 323 1413 320 1414.5 316.5 C1415 314 1412 311.5 1409 307 C1405 301 1401.5 297 1400.5 292 C1400 285 1399 277 1396 269 C1389 252 1370 240.5 1348 240.3 Z" fill="#0f1037"/>
<path d="M1332.79 256.52L1327.88 254.75M1332.79 256.52L1338.2 256.67M1332.79 256.52L1334.28 248.36M1332.79 256.52L1338.7 262.56M1362.89 250.01L1366.9 252.94M1362.89 250.01L1359.9 245.9M1362.89 250.01L1357.76 251.53M1362.89 250.01L1369.2 248.11M1352.3 274.35L1349.88 270.06M1352.3 274.35L1356.2 271.09M1352.3 274.35L1357.17 276.67M1352.3 274.35L1344.39 276.01M1314.39 262.53L1309.67 263.97M1314.39 262.53L1313.07 257.4M1314.39 262.53L1316.42 267.51M1314.39 262.53L1323.28 262.83M1381.98 268.04L1386.9 270.92M1381.98 268.04L1379.7 273.44M1381.98 268.04L1378.44 263.16M1381.98 268.04L1375.48 267.16M1331.38 311.74L1326.04 311.82M1331.38 311.74L1330.4 305.34M1331.38 311.74L1327.37 319.43M1331.38 311.74L1323.37 307.12M1361.78 274.91L1357.17 276.67M1361.78 274.91L1365.6 279.49M1361.78 274.91L1356.2 271.09M1361.78 274.91L1368.82 273.37M1353.39 249.21L1357.76 251.53M1353.39 249.21L1347.72 246.06M1353.39 249.21L1351.6 256.17M1353.39 249.21L1359.9 245.9M1365.6 279.49L1361.78 274.91M1365.6 279.49L1367.35 285.36M1365.6 279.49L1371.97 278.26M1365.6 279.49L1368.82 273.37M1331.9 292.6L1336.97 291.01M1331.9 292.6L1329.96 297.55M1331.9 292.6L1332.99 287.02M1331.9 292.6L1335.49 297.02M1344.69 268.88L1349.88 270.06M1344.69 268.88L1346.31 263.69M1344.69 268.88L1338.84 271.07M1344.69 268.88L1344.39 276.01M1325.46 291.68L1324.36 296.62M1325.46 291.68L1320.04 290M1325.46 291.68L1331.9 292.6M1325.46 291.68L1329.96 297.55M1370.11 267.9L1365.17 268.14M1370.11 267.9L1368.43 262.86M1370.11 267.9L1375.48 267.16M1370.11 267.9L1368.82 273.37M1316.98 284.58L1315.49 279.56M1316.98 284.58L1312.18 286.7M1316.98 284.58L1320.04 290M1316.98 284.58L1310.41 281.28M1356.35 281.87L1359.35 285.96M1356.35 281.87L1357.17 276.67M1356.35 281.87L1350.52 282.57M1356.35 281.87L1352.3 274.35M1318.46 253.72L1322.21 257.47M1318.46 253.72L1323.6 251.79M1318.46 253.72L1313.07 257.4M1318.46 253.72L1327.88 254.75M1310.41 281.28L1315.49 279.56M1310.41 281.28L1312.18 286.7M1310.41 281.28L1305.84 276.64M1310.41 281.28L1316.98 284.58M1328.61 278.47L1323.55 278.61M1328.61 278.47L1329.63 283.44M1328.61 278.47L1331.48 273.6M1328.61 278.47L1326.21 272.83M1324.47 284.25L1329.63 283.44M1324.47 284.25L1323.55 278.61M1324.47 284.25L1328.61 278.47M1324.47 284.25L1320.04 290M1357.2 265.81L1356.2 271.09M1357.2 265.81L1351.48 263.79M1357.2 265.81L1355.67 259.41M1357.2 265.81L1362.95 260.89M1336.97 291.01L1342.26 291.46M1336.97 291.01L1331.9 292.6M1336.97 291.01L1339.16 286.05M1336.97 291.01L1332.99 287.02M1339.1 277.12L1344.39 276.01M1339.1 277.12L1338.84 271.07M1339.1 277.12L1335.55 282.03M1339.1 277.12L1331.48 273.6M1322.21 257.47L1318.46 253.72M1322.21 257.47L1323.28 262.83M1322.21 257.47L1323.6 251.79M1322.21 257.47L1327.88 254.75M1334.28 248.36L1329.33 248.07M1334.28 248.36L1339.95 247.37M1334.28 248.36L1340.94 252.47M1334.28 248.36L1332.79 256.52M1312.33 274.18L1317.74 274.29M1312.33 274.18L1315.49 279.56M1312.33 274.18L1305.84 276.64M1312.33 274.18L1310.41 281.28M1359.49 256.33L1355.67 259.41M1359.49 256.33L1357.76 251.53M1359.49 256.33L1362.95 260.89M1359.49 256.33L1362.89 250.01M1326.21 272.83L1325.65 267.8M1326.21 272.83L1331.48 273.6M1326.21 272.83L1321.01 270.44M1326.21 272.83L1330.5 268.79M1345.87 284.16L1350.52 282.57M1345.87 284.16L1349.15 288.14M1345.87 284.16L1339.16 286.05M1345.87 284.16L1342.26 291.46M1334.52 265.97L1330.5 268.79M1334.52 265.97L1338.7 262.56M1334.52 265.97L1328.94 264.1M1334.52 265.97L1338.84 271.07M1379.25 257.4L1374.44 256.39M1379.25 257.4L1383.85 255.54M1379.25 257.4L1378.44 263.16M1379.25 257.4L1385.22 260.54M1351.6 256.17L1355.67 259.41M1351.6 256.17L1345.9 253.84M1351.6 256.17L1353.39 249.21M1351.6 256.17L1351.48 263.79M1326.84 301.48L1329.96 297.55M1326.84 301.48L1330.4 305.34M1326.84 301.48L1324.36 296.62M1326.84 301.48L1323.37 307.12M1390.86 274.26L1386.9 270.92M1390.86 274.26L1384.92 276.03M1390.86 274.26L1386.95 280.79M1390.86 274.26L1389.68 265.55M1323.28 262.83L1322.21 257.47M1323.28 262.83L1325.65 267.8M1323.28 262.83L1328.94 264.1M1323.28 262.83L1321.01 270.44M1380.32 283.8L1377.89 279.13M1380.32 283.8L1381.16 289.29M1380.32 283.8L1385.91 285.6M1380.32 283.8L1376.17 289.49M1372.01 283.68L1367.35 285.36M1372.01 283.68L1371.97 278.26M1372.01 283.68L1370.44 289.74M1372.01 283.68L1376.17 289.49M1369.68 258.11L1368.43 262.86M1369.68 258.11L1374.44 256.39M1369.68 258.11L1373.36 262.59M1369.68 258.11L1366.9 252.94M1335.55 282.03L1339.16 286.05M1335.55 282.03L1332.99 287.02M1335.55 282.03L1339.1 277.12M1335.55 282.03L1329.63 283.44M1349.15 288.14L1345.87 284.16M1349.15 288.14L1350.52 282.57M1349.15 288.14L1355.85 290.52M1349.15 288.14L1342.26 291.46M1343.49 259.2L1346.31 263.69M1343.49 259.2L1338.7 262.56M1343.49 259.2L1338.2 256.67M1343.49 259.2L1345.9 253.84M1332.99 287.02L1329.63 283.44M1332.99 287.02L1335.55 282.03M1332.99 287.02L1336.97 291.01M1332.99 287.02L1331.9 292.6M1386.95 280.79L1385.91 285.6M1386.95 280.79L1384.92 276.03M1386.95 280.79L1380.32 283.8M1386.95 280.79L1390.86 274.26M1359.35 285.96L1356.35 281.87M1359.35 285.96L1355.85 290.52M1359.35 285.96L1365.55 289.97M1359.35 285.96L1367.35 285.36M1389.68 265.55L1386.9 270.92M1389.68 265.55L1385.22 260.54M1389.68 265.55L1381.98 268.04M1389.68 265.55L1390.86 274.26M1309.67 263.97L1314.39 262.53M1309.67 263.97L1306.71 268.38M1309.67 263.97L1313.07 257.4M1309.67 263.97L1316.42 267.51M1323.2 323.06L1327.37 319.43M1323.2 323.06L1322.3 317.34M1323.2 323.06L1326.04 311.82M1323.2 323.06L1331.38 311.74M1321.01 270.44L1317.74 274.29M1321.01 270.44L1325.65 267.8M1321.01 270.44L1316.42 267.51M1321.01 270.44L1326.21 272.83M1327.88 254.75L1323.6 251.79M1327.88 254.75L1332.79 256.52M1327.88 254.75L1322.21 257.47M1327.88 254.75L1329.33 248.07M1351.48 263.79L1346.31 263.69M1351.48 263.79L1355.67 259.41M1351.48 263.79L1357.2 265.81M1351.48 263.79L1349.88 270.06M1313.07 257.4L1314.39 262.53M1313.07 257.4L1318.46 253.72M1313.07 257.4L1309.67 263.97M1313.07 257.4L1322.21 257.47M1370.44 289.74L1365.55 289.97M1370.44 289.74L1367.35 285.36M1370.44 289.74L1376.17 289.49M1370.44 289.74L1372.01 283.68M1339.16 286.05L1335.55 282.03M1339.16 286.05L1336.97 291.01M1339.16 286.05L1342.26 291.46M1339.16 286.05L1332.99 287.02M1328.94 264.1L1330.5 268.79M1328.94 264.1L1325.65 267.8M1328.94 264.1L1323.28 262.83M1328.94 264.1L1334.52 265.97M1331.48 273.6L1330.5 268.79M1331.48 273.6L1326.21 272.83M1331.48 273.6L1328.61 278.47M1331.48 273.6L1338.84 271.07M1338.84 271.07L1339.1 277.12M1338.84 271.07L1344.69 268.88M1338.84 271.07L1334.52 265.97M1338.84 271.07L1344.39 276.01M1365.17 268.14L1370.11 267.9M1365.17 268.14L1368.43 262.86M1365.17 268.14L1368.82 273.37M1365.17 268.14L1361.78 274.91M1350.52 282.57L1345.87 284.16M1350.52 282.57L1349.15 288.14M1350.52 282.57L1356.35 281.87M1350.52 282.57L1352.3 274.35M1345.9 253.84L1340.94 252.47M1345.9 253.84L1343.49 259.2M1345.9 253.84L1351.6 256.17M1345.9 253.84L1347.72 246.06M1385.22 260.54L1383.85 255.54M1385.22 260.54L1389.68 265.55M1385.22 260.54L1379.25 257.4M1385.22 260.54L1378.44 263.16M1347.72 246.06L1353.39 249.21M1347.72 246.06L1339.95 247.37M1347.72 246.06L1345.9 253.84M1347.72 246.06L1340.94 252.47M1369.2 248.11L1366.9 252.94M1369.2 248.11L1374.97 250.56M1369.2 248.11L1362.89 250.01M1369.2 248.11L1359.9 245.9M1329.33 248.07L1334.28 248.36M1329.33 248.07L1323.6 251.79M1329.33 248.07L1327.88 254.75M1329.33 248.07L1332.79 256.52M1330.4 305.34L1326.84 301.48M1330.4 305.34L1334.9 302.49M1330.4 305.34L1331.38 311.74M1330.4 305.34L1323.37 307.12M1371.97 278.26L1372.01 283.68M1371.97 278.26L1368.82 273.37M1371.97 278.26L1377.89 279.13M1371.97 278.26L1365.6 279.49M1338.7 262.56L1334.52 265.97M1338.7 262.56L1343.49 259.2M1338.7 262.56L1338.2 256.67M1338.7 262.56L1346.31 263.69M1378.44 263.16L1375.48 267.16M1378.44 263.16L1373.36 262.59M1378.44 263.16L1379.25 257.4M1378.44 263.16L1381.98 268.04M1323.37 307.12L1326.04 311.82M1323.37 307.12L1326.84 301.48M1323.37 307.12L1330.4 305.34M1323.37 307.12L1331.38 311.74M1323.55 278.61L1328.61 278.47M1323.55 278.61L1324.47 284.25M1323.55 278.61L1326.21 272.83M1323.55 278.61L1317.74 274.29M1374.97 250.56L1374.44 256.39M1374.97 250.56L1369.2 248.11M1374.97 250.56L1379.25 257.4M1374.97 250.56L1366.9 252.94M1356.2 271.09L1352.3 274.35M1356.2 271.09L1357.2 265.81M1356.2 271.09L1357.17 276.67M1356.2 271.09L1349.88 270.06M1306.71 268.38L1309.67 263.97M1306.71 268.38L1312.33 274.18M1306.71 268.38L1305.84 276.64M1306.71 268.38L1314.39 262.53M1362.95 260.89L1359.49 256.33M1362.95 260.89L1368.43 262.86M1362.95 260.89L1369.68 258.11M1362.95 260.89L1355.67 259.41M1376.17 289.49L1381.16 289.29M1376.17 289.49L1370.44 289.74M1376.17 289.49L1380.32 283.8M1376.17 289.49L1372.01 283.68M1316.42 267.51L1314.39 262.53M1316.42 267.51L1321.01 270.44M1316.42 267.51L1317.74 274.29M1316.42 267.51L1309.67 263.97M1334.9 302.49L1330.4 305.34M1334.9 302.49L1335.49 297.02M1334.9 302.49L1329.96 297.55M1334.9 302.49L1326.84 301.48M1367.35 285.36L1365.55 289.97M1367.35 285.36L1372.01 283.68M1367.35 285.36L1370.44 289.74M1367.35 285.36L1365.6 279.49M1385.91 285.6L1386.95 280.79M1385.91 285.6L1380.32 283.8M1385.91 285.6L1381.16 289.29M1385.91 285.6L1384.92 276.03M1335.49 297.02L1334.9 302.49M1335.49 297.02L1329.96 297.55M1335.49 297.02L1331.9 292.6M1335.49 297.02L1336.97 291.01M1379.7 273.44L1374.48 272.1M1379.7 273.44L1384.92 276.03M1379.7 273.44L1381.98 268.04M1379.7 273.44L1377.89 279.13M1340.94 252.47L1338.2 256.67M1340.94 252.47L1345.9 253.84M1340.94 252.47L1339.95 247.37M1340.94 252.47L1343.49 259.2M1326.04 311.82L1331.38 311.74M1326.04 311.82L1323.37 307.12M1326.04 311.82L1322.3 317.34M1326.04 311.82L1327.37 319.43M1374.48 272.1L1375.48 267.16M1374.48 272.1L1379.7 273.44M1374.48 272.1L1368.82 273.37M1374.48 272.1L1370.11 267.9M1368.82 273.37L1370.11 267.9M1368.82 273.37L1374.48 272.1M1368.82 273.37L1371.97 278.26M1368.82 273.37L1365.17 268.14M1344.39 276.01L1339.1 277.12M1344.39 276.01L1344.69 268.88M1344.39 276.01L1338.84 271.07M1344.39 276.01L1352.3 274.35M1320.04 290L1325.46 291.68M1320.04 290L1316.98 284.58M1320.04 290L1324.47 284.25M1320.04 290L1324.36 296.62M1377.89 279.13L1380.32 283.8M1377.89 279.13L1379.7 273.44M1377.89 279.13L1371.97 278.26M1377.89 279.13L1372.01 283.68M1322.3 317.34L1327.37 319.43M1322.3 317.34L1323.2 323.06M1322.3 317.34L1326.04 311.82M1322.3 317.34L1323.37 307.12M1315.49 279.56L1316.98 284.58M1315.49 279.56L1310.41 281.28M1315.49 279.56L1317.74 274.29M1315.49 279.56L1312.33 274.18M1327.37 319.43L1322.3 317.34M1327.37 319.43L1323.2 323.06M1327.37 319.43L1326.04 311.82M1327.37 319.43L1331.38 311.74M1339.95 247.37L1340.94 252.47M1339.95 247.37L1334.28 248.36M1339.95 247.37L1347.72 246.06M1339.95 247.37L1345.9 253.84M1365.55 289.97L1370.44 289.74M1365.55 289.97L1367.35 285.36M1365.55 289.97L1359.35 285.96M1365.55 289.97L1372.01 283.68M1386.9 270.92L1390.86 274.26M1386.9 270.92L1384.92 276.03M1386.9 270.92L1381.98 268.04M1386.9 270.92L1389.68 265.55M1305.84 276.64L1310.41 281.28M1305.84 276.64L1312.33 274.18M1305.84 276.64L1306.71 268.38M1305.84 276.64L1315.49 279.56M1323.6 251.79L1327.88 254.75M1323.6 251.79L1318.46 253.72M1323.6 251.79L1322.21 257.47M1323.6 251.79L1329.33 248.07M1373.36 262.59L1368.43 262.86M1373.36 262.59L1375.48 267.16M1373.36 262.59L1378.44 263.16M1373.36 262.59L1369.68 258.11M1383.85 255.54L1379.25 257.4M1383.85 255.54L1385.22 260.54M1383.85 255.54L1378.44 263.16M1383.85 255.54L1374.44 256.39M1342.26 291.46L1336.97 291.01M1342.26 291.46L1339.16 286.05M1342.26 291.46L1349.15 288.14M1342.26 291.46L1345.87 284.16M1355.85 290.52L1359.35 285.96M1355.85 290.52L1349.15 288.14M1355.85 290.52L1356.35 281.87M1355.85 290.52L1350.52 282.57M1349.88 270.06L1352.3 274.35M1349.88 270.06L1344.69 268.88M1349.88 270.06L1356.2 271.09M1349.88 270.06L1351.48 263.79M1325.65 267.8L1328.94 264.1M1325.65 267.8L1330.5 268.79M1325.65 267.8L1326.21 272.83M1325.65 267.8L1321.01 270.44M1366.9 252.94L1362.89 250.01M1366.9 252.94L1369.2 248.11M1366.9 252.94L1369.68 258.11M1366.9 252.94L1359.49 256.33M1317.74 274.29L1321.01 270.44M1317.74 274.29L1312.33 274.18M1317.74 274.29L1315.49 279.56M1317.74 274.29L1316.42 267.51M1324.36 296.62L1325.46 291.68M1324.36 296.62L1326.84 301.48M1324.36 296.62L1329.96 297.55M1324.36 296.62L1320.04 290M1374.44 256.39L1379.25 257.4M1374.44 256.39L1369.68 258.11M1374.44 256.39L1374.97 250.56M1374.44 256.39L1373.36 262.59M1359.9 245.9L1362.89 250.01M1359.9 245.9L1357.76 251.53M1359.9 245.9L1353.39 249.21M1359.9 245.9L1369.2 248.11M1384.92 276.03L1386.95 280.79M1384.92 276.03L1386.9 270.92M1384.92 276.03L1379.7 273.44M1384.92 276.03L1390.86 274.26M1346.31 263.69L1351.48 263.79M1346.31 263.69L1343.49 259.2M1346.31 263.69L1344.69 268.88M1346.31 263.69L1349.88 270.06M1312.18 286.7L1316.98 284.58M1312.18 286.7L1310.41 281.28M1312.18 286.7L1315.49 279.56M1312.18 286.7L1320.04 290M1355.67 259.41L1359.49 256.33M1355.67 259.41L1351.6 256.17M1355.67 259.41L1351.48 263.79M1355.67 259.41L1357.2 265.81M1357.17 276.67L1361.78 274.91M1357.17 276.67L1356.35 281.87M1357.17 276.67L1352.3 274.35M1357.17 276.67L1356.2 271.09M1368.43 262.86L1369.68 258.11M1368.43 262.86L1373.36 262.59M1368.43 262.86L1370.11 267.9M1368.43 262.86L1362.95 260.89M1329.96 297.55L1326.84 301.48M1329.96 297.55L1331.9 292.6M1329.96 297.55L1335.49 297.02M1329.96 297.55L1324.36 296.62M1381.16 289.29L1376.17 289.49M1381.16 289.29L1380.32 283.8M1381.16 289.29L1385.91 285.6M1381.16 289.29L1386.95 280.79M1375.48 267.16L1378.44 263.16M1375.48 267.16L1374.48 272.1M1375.48 267.16L1373.36 262.59M1375.48 267.16L1370.11 267.9M1357.76 251.53L1353.39 249.21M1357.76 251.53L1359.49 256.33M1357.76 251.53L1362.89 250.01M1357.76 251.53L1359.9 245.9M1338.2 256.67L1340.94 252.47M1338.2 256.67L1332.79 256.52M1338.2 256.67L1343.49 259.2M1338.2 256.67L1338.7 262.56M1330.5 268.79L1331.48 273.6M1330.5 268.79L1334.52 265.97M1330.5 268.79L1328.94 264.1M1330.5 268.79L1325.65 267.8M1329.63 283.44L1332.99 287.02M1329.63 283.44L1328.61 278.47M1329.63 283.44L1324.47 284.25M1329.63 283.44L1335.55 282.03" fill="none" stroke="#dcdce8" stroke-width="0.5" opacity="0.65"/>
<circle cx="1332.79" cy="256.52" r="0.9" fill="#f4f4f8"/>
<circle cx="1362.89" cy="250.01" r="1.9" fill="#f4f4f8"/>
<circle cx="1352.3" cy="274.35" r="1.1" fill="#f4f4f8"/>
<circle cx="1314.39" cy="262.53" r="1.3" fill="#f4f4f8"/>
<circle cx="1381.98" cy="268.04" r="1.3" fill="#f4f4f8"/>
<circle cx="1331.38" cy="311.74" r="1.3" fill="#f4f4f8"/>
<circle cx="1361.78" cy="274.91" r="1.3" fill="#f4f4f8"/>
<circle cx="1353.39" cy="249.21" r="1.1" fill="#f4f4f8"/>
<circle cx="1365.6" cy="279.49" r="1.1" fill="#f4f4f8"/>
<circle cx="1331.9" cy="292.6" r="1.1" fill="#f4f4f8"/>
<circle cx="1344.69" cy="268.88" r="1.6" fill="#f4f4f8"/>
<circle cx="1325.46" cy="291.68" r="1.6" fill="#f4f4f8"/>
<circle cx="1370.11" cy="267.9" r="1.1" fill="#f4f4f8"/>
<circle cx="1316.98" cy="284.58" r="0.9" fill="#f4f4f8"/>
<circle cx="1356.35" cy="281.87" r="1.3" fill="#f4f4f8"/>
<circle cx="1318.46" cy="253.72" r="1.1" fill="#f4f4f8"/>
<circle cx="1310.41" cy="281.28" r="1.3" fill="#f4f4f8"/>
<circle cx="1328.61" cy="278.47" r="1.3" fill="#f4f4f8"/>
<circle cx="1324.47" cy="284.25" r="1.1" fill="#f4f4f8"/>
<circle cx="1357.2" cy="265.81" r="1.1" fill="#f4f4f8"/>
<circle cx="1336.97" cy="291.01" r="1.6" fill="#f4f4f8"/>
<circle cx="1339.1" cy="277.12" r="1.3" fill="#f4f4f8"/>
<circle cx="1322.21" cy="257.47" r="1.3" fill="#f4f4f8"/>
<circle cx="1334.28" cy="248.36" r="1.1" fill="#f4f4f8"/>
<circle cx="1312.33" cy="274.18" r="1.1" fill="#f4f4f8"/>
<circle cx="1359.49" cy="256.33" r="1.6" fill="#f4f4f8"/>
<circle cx="1326.21" cy="272.83" r="1.6" fill="#f4f4f8"/>
<circle cx="1345.87" cy="284.16" r="0.9" fill="#f4f4f8"/>
<circle cx="1334.52" cy="265.97" r="1.6" fill="#f4f4f8"/>
<circle cx="1379.25" cy="257.4" r="1.6" fill="#f4f4f8"/>
<circle cx="1351.6" cy="256.17" r="1.9" fill="#f4f4f8"/>
<circle cx="1326.84" cy="301.48" r="0.9" fill="#f4f4f8"/>
<circle cx="1390.86" cy="274.26" r="1.1" fill="#f4f4f8"/>
<circle cx="1323.28" cy="262.83" r="1.3" fill="#f4f4f8"/>
<circle cx="1380.32" cy="283.8" r="0.9" fill="#f4f4f8"/>
<circle cx="1372.01" cy="283.68" r="1.1" fill="#f4f4f8"/>
<circle cx="1369.68" cy="258.11" r="1.3" fill="#f4f4f8"/>
<circle cx="1335.55" cy="282.03" r="1.3" fill="#f4f4f8"/>
<circle cx="1349.15" cy="288.14" r="1.6" fill="#f4f4f8"/>
<circle cx="1343.49" cy="259.2" r="1.9" fill="#f4f4f8"/>
<circle cx="1332.99" cy="287.02" r="1.1" fill="#f4f4f8"/>
<circle cx="1386.95" cy="280.79" r="0.9" fill="#f4f4f8"/>
<circle cx="1359.35" cy="285.96" r="0.9" fill="#f4f4f8"/>
<circle cx="1389.68" cy="265.55" r="1.6" fill="#f4f4f8"/>
<circle cx="1309.67" cy="263.97" r="1.6" fill="#f4f4f8"/>
<circle cx="1323.2" cy="323.06" r="1.1" fill="#f4f4f8"/>
<circle cx="1321.01" cy="270.44" r="1.6" fill="#f4f4f8"/>
<circle cx="1327.88" cy="254.75" r="1.1" fill="#f4f4f8"/>
<circle cx="1351.48" cy="263.79" r="0.9" fill="#f4f4f8"/>
<circle cx="1313.07" cy="257.4" r="1.3" fill="#f4f4f8"/>
<circle cx="1370.44" cy="289.74" r="0.9" fill="#f4f4f8"/>
<circle cx="1339.16" cy="286.05" r="1.3" fill="#f4f4f8"/>
<circle cx="1328.94" cy="264.1" r="1.6" fill="#f4f4f8"/>
<circle cx="1331.48" cy="273.6" r="0.9" fill="#f4f4f8"/>
<circle cx="1338.84" cy="271.07" r="1.1" fill="#f4f4f8"/>
<circle cx="1365.17" cy="268.14" r="0.9" fill="#f4f4f8"/>
<circle cx="1350.52" cy="282.57" r="1.9" fill="#f4f4f8"/>
<circle cx="1345.9" cy="253.84" r="1.9" fill="#f4f4f8"/>
<circle cx="1385.22" cy="260.54" r="0.9" fill="#f4f4f8"/>
<circle cx="1347.72" cy="246.06" r="1.9" fill="#f4f4f8"/>
<circle cx="1369.2" cy="248.11" r="0.9" fill="#f4f4f8"/>
<circle cx="1329.33" cy="248.07" r="1.3" fill="#f4f4f8"/>
<circle cx="1330.4" cy="305.34" r="1.9" fill="#f4f4f8"/>
<circle cx="1371.97" cy="278.26" r="1.9" fill="#f4f4f8"/>
<circle cx="1338.7" cy="262.56" r="0.9" fill="#f4f4f8"/>
<circle cx="1378.44" cy="263.16" r="1.6" fill="#f4f4f8"/>
<circle cx="1323.37" cy="307.12" r="1.1" fill="#f4f4f8"/>
<circle cx="1323.55" cy="278.61" r="1.6" fill="#f4f4f8"/>
<circle cx="1374.97" cy="250.56" r="1.3" fill="#f4f4f8"/>
<circle cx="1356.2" cy="271.09" r="0.9" fill="#f4f4f8"/>
<circle cx="1306.71" cy="268.38" r="1.6" fill="#f4f4f8"/>
<circle cx="1362.95" cy="260.89" r="1.3" fill="#f4f4f8"/>
<circle cx="1376.17" cy="289.49" r="1.1" fill="#f4f4f8"/>
<circle cx="1316.42" cy="267.51" r="0.9" fill="#f4f4f8"/>
<circle cx="1334.9" cy="302.49" r="1.1" fill="#f4f4f8"/>
<circle cx="1367.35" cy="285.36" r="1.9" fill="#f4f4f8"/>
<circle cx="1385.91" cy="285.6" r="1.9" fill="#f4f4f8"/>
<circle cx="1335.49" cy="297.02" r="1.3" fill="#f4f4f8"/>
<circle cx="1379.7" cy="273.44" r="0.9" fill="#f4f4f8"/>
<circle cx="1340.94" cy="252.47" r="0.9" fill="#f4f4f8"/>
<circle cx="1326.04" cy="311.82" r="1.9" fill="#f4f4f8"/>
<circle cx="1374.48" cy="272.1" r="1.9" fill="#f4f4f8"/>
<circle cx="1368.82" cy="273.37" r="0.9" fill="#f4f4f8"/>
<circle cx="1344.39" cy="276.01" r="1.6" fill="#f4f4f8"/>
<circle cx="1320.04" cy="290" r="1.9" fill="#f4f4f8"/>
<circle cx="1377.89" cy="279.13" r="1.1" fill="#f4f4f8"/>
<circle cx="1322.3" cy="317.34" r="1.3" fill="#f4f4f8"/>
<circle cx="1315.49" cy="279.56" r="0.9" fill="#f4f4f8"/>
<circle cx="1327.37" cy="319.43" r="1.3" fill="#f4f4f8"/>
<circle cx="1339.95" cy="247.37" r="1.1" fill="#f4f4f8"/>
<circle cx="1365.55" cy="289.97" r="0.9" fill="#f4f4f8"/>
<circle cx="1386.9" cy="270.92" r="1.1" fill="#f4f4f8"/>
<circle cx="1305.84" cy="276.64" r="1.9" fill="#f4f4f8"/>
<circle cx="1323.6" cy="251.79" r="1.1" fill="#f4f4f8"/>
<circle cx="1373.36" cy="262.59" r="1.3" fill="#f4f4f8"/>
<circle cx="1383.85" cy="255.54" r="1.1" fill="#f4f4f8"/>
<circle cx="1342.26" cy="291.46" r="1.6" fill="#f4f4f8"/>
<circle cx="1355.85" cy="290.52" r="1.6" fill="#f4f4f8"/>
<circle cx="1349.88" cy="270.06" r="1.9" fill="#f4f4f8"/>
<circle cx="1325.65" cy="267.8" r="1.9" fill="#f4f4f8"/>
<circle cx="1366.9" cy="252.94" r="1.6" fill="#f4f4f8"/>
<circle cx="1317.74" cy="274.29" r="1.6" fill="#f4f4f8"/>
<circle cx="1324.36" cy="296.62" r="0.9" fill="#f4f4f8"/>
<circle cx="1374.44" cy="256.39" r="1.1" fill="#f4f4f8"/>
<circle cx="1359.9" cy="245.9" r="0.9" fill="#f4f4f8"/>
<circle cx="1384.92" cy="276.03" r="0.9" fill="#f4f4f8"/>
<circle cx="1346.31" cy="263.69" r="1.1" fill="#f4f4f8"/>
<circle cx="1312.18" cy="286.7" r="1.9" fill="#f4f4f8"/>
<circle cx="1355.67" cy="259.41" r="1.6" fill="#f4f4f8"/>
<circle cx="1357.17" cy="276.67" r="1.9" fill="#f4f4f8"/>
<circle cx="1368.43" cy="262.86" r="1.3" fill="#f4f4f8"/>
<circle cx="1329.96" cy="297.55" r="1.1" fill="#f4f4f8"/>
<circle cx="1381.16" cy="289.29" r="1.6" fill="#f4f4f8"/>
<circle cx="1375.48" cy="267.16" r="1.6" fill="#f4f4f8"/>
<circle cx="1357.76" cy="251.53" r="1.6" fill="#f4f4f8"/>
<circle cx="1338.2" cy="256.67" r="0.9" fill="#f4f4f8"/>
<circle cx="1330.5" cy="268.79" r="1.1" fill="#f4f4f8"/>
<circle cx="1329.63" cy="283.44" r="1.9" fill="#f4f4f8"/>
<rect x="1707.8" y="135.8" width="208.4" height="282.4" fill="#748085" rx="9"/>
<rect x="1723.5" y="404" width="180.5" height="3.2" fill="#5a6468"/>
<rect x="1721.9" y="151.3" width="180.5" height="252.4" fill="#ffffff"/>
<path d="M1751.5 152 L1754 164 L1759 164 L1759 152 Z M1867 152 L1864.5 164 L1860 164 L1860 152 Z" fill="#aebfe0"/>
<circle cx="1809" cy="120.5" r="16.8" fill="#b6b6b6"/>
<circle cx="1809" cy="120.5" r="7.3" fill="#ffffff"/>
<rect x="1753.6" y="129.3" width="111.2" height="35.3" fill="#b6b6b6" rx="3.5"/>
<path d="M1822 131 L1851 131 L1832 158 L1809 158 Z" fill="#c6c6c6"/>
<path d="M1753.6 157.8 L1864.8 157.8 L1864.8 161.5 C1864.8 163.5 1863.5 164.6 1861.5 164.6 L1757 164.6 C1755 164.6 1753.6 163.5 1753.6 161.5 Z" fill="#8f8f8f"/>
<rect x="1735" y="172.5" width="38.2" height="38.1" fill="#7da0ce"/>
<circle cx="1754.2" cy="185.3" r="8.8" fill="#fff"/>
<path d="M1739.5 210.6 L1739.5 203 C1739.5 197 1745 194.5 1749 193.5 C1752 196 1756.5 196 1759.5 193.5 C1763.5 194.5 1768.8 197 1768.8 203 L1768.8 210.6 Z" fill="#fff"/>
<rect x="1780" y="172.5" width="106.9" height="7.3" fill="#7da0ce"/>
<rect x="1780" y="185" width="75" height="25.6" fill="#aec0e1"/>
<rect x="1735" y="221.5" width="151.9" height="7.4" fill="#7da0ce"/>
<rect x="1863.9" y="236.7" width="21.4" height="21.3" fill="#fff" stroke="#98b1d8" stroke-width="1.8"/>
<rect x="1863.9" y="270.8" width="21.4" height="21.1" fill="#fff" stroke="#98b1d8" stroke-width="1.8"/>
<rect x="1735" y="298.7" width="151.9" height="7.3" fill="#7da0ce"/>
<rect x="1735" y="314" width="150.7" height="33.2" fill="#aec0e1"/>
<rect x="1735.2" y="359.4" width="15" height="14.9" fill="#fff" stroke="#7da0ce" stroke-width="1.6"/>
<rect x="1787.2" y="359.4" width="15" height="14.9" fill="#fff" stroke="#7da0ce" stroke-width="1.6"/>
<rect x="1754" y="359.8" width="28" height="7" fill="#aec0e1"/>
<rect x="1806" y="359.8" width="28" height="7" fill="#aec0e1"/>
<rect x="1735" y="377.4" width="99" height="7.3" fill="#7da0ce"/>
<path d="M1863 359.5 h10 v10 h10 v10 h-10 v10 h-10 v-10 h-10 v-10 h10 Z" fill="#cb4b4d"/>
<circle cx="1867.8" cy="196.6" r="22.8" fill="#f7e9ea"/>
<circle cx="1857.26" cy="186.14" r="1.5" fill="#b8343b"/><circle cx="1854.95" cy="185.8" r="1.5" fill="#b8343b"/><circle cx="1856.39" cy="183.97" r="1.5" fill="#b8343b"/>
<circle cx="1873.08" cy="180.42" r="1.5" fill="#c4424a"/><circle cx="1871.67" cy="178.56" r="1.5" fill="#c4424a"/><circle cx="1873.99" cy="178.26" r="1.5" fill="#c4424a"/>
<circle cx="1867.41" cy="179.7" r="1.5" fill="#ad2f36"/><circle cx="1865.31" cy="178.68" r="1.5" fill="#ad2f36"/><circle cx="1867.25" cy="177.37" r="1.5" fill="#ad2f36"/>
<circle cx="1881.28" cy="199.96" r="1.5" fill="#c9494f"/><circle cx="1879.09" cy="199.16" r="1.5" fill="#c9494f"/><circle cx="1880.88" cy="197.66" r="1.5" fill="#c9494f"/>
<circle cx="1883.26" cy="191.79" r="1.5" fill="#b8343b"/><circle cx="1880.95" cy="192.18" r="1.5" fill="#b8343b"/><circle cx="1881.77" cy="189.99" r="1.5" fill="#b8343b"/>
<circle cx="1873.64" cy="194.07" r="1.5" fill="#c4424a"/><circle cx="1871.59" cy="192.94" r="1.5" fill="#c4424a"/><circle cx="1873.59" cy="191.73" r="1.5" fill="#c4424a"/>
<circle cx="1859.92" cy="198.82" r="1.5" fill="#ad2f36"/><circle cx="1857.64" cy="199.31" r="1.5" fill="#ad2f36"/><circle cx="1858.36" cy="197.08" r="1.5" fill="#ad2f36"/>
<circle cx="1853.89" cy="194.07" r="1.5" fill="#c9494f"/><circle cx="1853.04" cy="191.89" r="1.5" fill="#c9494f"/><circle cx="1855.35" cy="192.24" r="1.5" fill="#c9494f"/>
<circle cx="1865.63" cy="215" r="1.5" fill="#b8343b"/><circle cx="1863.3" cy="214.93" r="1.5" fill="#b8343b"/><circle cx="1864.53" cy="212.94" r="1.5" fill="#b8343b"/>
<circle cx="1863.58" cy="193.23" r="1.5" fill="#c4424a"/><circle cx="1861.5" cy="192.16" r="1.5" fill="#c4424a"/><circle cx="1863.47" cy="190.9" r="1.5" fill="#c4424a"/>
<circle cx="1869.75" cy="206.37" r="1.5" fill="#ad2f36"/><circle cx="1868.97" cy="204.17" r="1.5" fill="#ad2f36"/><circle cx="1871.27" cy="204.59" r="1.5" fill="#ad2f36"/>
<circle cx="1873.11" cy="215.44" r="1.5" fill="#c9494f"/><circle cx="1871.66" cy="213.61" r="1.5" fill="#c9494f"/><circle cx="1873.97" cy="213.26" r="1.5" fill="#c9494f"/>
<circle cx="1862.36" cy="206.86" r="1.5" fill="#b8343b"/><circle cx="1861.12" cy="204.88" r="1.5" fill="#b8343b"/><circle cx="1863.45" cy="204.79" r="1.5" fill="#b8343b"/>
<circle cx="1881.74" cy="207.25" r="1.5" fill="#c4424a"/><circle cx="1879.44" cy="207.7" r="1.5" fill="#c4424a"/><circle cx="1880.19" cy="205.49" r="1.5" fill="#c4424a"/>
<circle cx="1857.62" cy="213.12" r="1.5" fill="#ad2f36"/><circle cx="1857.28" cy="210.8" r="1.5" fill="#ad2f36"/><circle cx="1859.46" cy="211.67" r="1.5" fill="#ad2f36"/>
<circle cx="1874.88" cy="201.19" r="1.5" fill="#c9494f"/><circle cx="1872.85" cy="200.03" r="1.5" fill="#c9494f"/><circle cx="1874.86" cy="198.85" r="1.5" fill="#c9494f"/>
<circle cx="1852.62" cy="200.56" r="1.5" fill="#b8343b"/><circle cx="1850.56" cy="201.67" r="1.5" fill="#b8343b"/><circle cx="1850.63" cy="199.33" r="1.5" fill="#b8343b"/>
<circle cx="1877.88" cy="186.44" r="1.5" fill="#c4424a"/><circle cx="1877.72" cy="184.1" r="1.5" fill="#c4424a"/><circle cx="1879.82" cy="185.13" r="1.5" fill="#c4424a"/>
<circle cx="1866.03" cy="200.27" r="1.5" fill="#ad2f36"/><circle cx="1863.95" cy="199.21" r="1.5" fill="#ad2f36"/><circle cx="1865.9" cy="197.94" r="1.5" fill="#ad2f36"/>
<circle cx="1870.14" cy="188.73" r="1.5" fill="#c9494f"/><circle cx="1868.32" cy="187.26" r="1.5" fill="#c9494f"/><circle cx="1870.51" cy="186.42" r="1.5" fill="#c9494f"/>
<circle cx="1864.54" cy="185.93" r="1.5" fill="#b8343b"/><circle cx="1862.28" cy="185.32" r="1.5" fill="#b8343b"/><circle cx="1863.93" cy="183.67" r="1.5" fill="#b8343b"/>
<circle cx="1852.26" cy="208.67" r="1.5" fill="#c4424a"/><circle cx="1851.85" cy="206.37" r="1.5" fill="#c4424a"/><circle cx="1854.05" cy="207.17" r="1.5" fill="#c4424a"/>
<circle cx="1885.38" cy="203.95" r="1.5" fill="#ad2f36"/><circle cx="1884.24" cy="201.91" r="1.5" fill="#ad2f36"/><circle cx="1886.57" cy="201.94" r="1.5" fill="#ad2f36"/>
<circle cx="1886.2" cy="197.87" r="1.5" fill="#c9494f"/><circle cx="1885.61" cy="195.6" r="1.5" fill="#c9494f"/><circle cx="1887.87" cy="196.22" r="1.5" fill="#c9494f"/>
<circle cx="1859.81" cy="181.24" r="1.5" fill="#b8343b"/><circle cx="1857.87" cy="179.93" r="1.5" fill="#b8343b"/><circle cx="1859.97" cy="178.91" r="1.5" fill="#b8343b"/>
<circle cx="1890.83" cy="199.73" r="1.5" fill="#c4424a"/><circle cx="1888.87" cy="198.46" r="1.5" fill="#c4424a"/><circle cx="1890.95" cy="197.39" r="1.5" fill="#c4424a"/>
<circle cx="1888.61" cy="206.1" r="1.5" fill="#ad2f36"/><circle cx="1887.68" cy="203.96" r="1.5" fill="#ad2f36"/><circle cx="1890.01" cy="204.23" r="1.5" fill="#ad2f36"/>
<circle cx="1886.92" cy="210.71" r="1.5" fill="#c9494f"/><circle cx="1884.65" cy="211.28" r="1.5" fill="#c9494f"/><circle cx="1885.29" cy="209.03" r="1.5" fill="#c9494f"/>
<circle cx="1881.15" cy="216.15" r="1.5" fill="#b8343b"/><circle cx="1879.8" cy="214.24" r="1.5" fill="#b8343b"/><circle cx="1882.13" cy="214.02" r="1.5" fill="#b8343b"/>
<circle cx="1875.13" cy="219.12" r="1.5" fill="#c4424a"/><circle cx="1874.32" cy="216.93" r="1.5" fill="#c4424a"/><circle cx="1876.63" cy="217.32" r="1.5" fill="#c4424a"/>
<circle cx="1868.92" cy="220.4" r="1.5" fill="#ad2f36"/><circle cx="1868.01" cy="218.25" r="1.5" fill="#ad2f36"/><circle cx="1870.33" cy="218.54" r="1.5" fill="#ad2f36"/>
<circle cx="1863.71" cy="219.41" r="1.5" fill="#c9494f"/><circle cx="1861.42" cy="218.94" r="1.5" fill="#c9494f"/><circle cx="1862.97" cy="217.19" r="1.5" fill="#c9494f"/>
<circle cx="1858" cy="216.68" r="1.5" fill="#b8343b"/><circle cx="1855.69" cy="217.04" r="1.5" fill="#b8343b"/><circle cx="1856.53" cy="214.86" r="1.5" fill="#b8343b"/>
<circle cx="1851.36" cy="213.6" r="1.5" fill="#c4424a"/><circle cx="1850.68" cy="211.36" r="1.5" fill="#c4424a"/><circle cx="1852.96" cy="211.89" r="1.5" fill="#c4424a"/>
<circle cx="1848.26" cy="208.17" r="1.25" fill="#ad2f36"/><circle cx="1846.8" cy="206.87" r="1.25" fill="#ad2f36"/><circle cx="1848.65" cy="206.26" r="1.25" fill="#ad2f36"/>
<circle cx="1845.52" cy="202.17" r="1.25" fill="#c9494f"/><circle cx="1844.91" cy="200.32" r="1.25" fill="#c9494f"/><circle cx="1846.82" cy="200.72" r="1.25" fill="#c9494f"/>
<circle cx="1846.06" cy="195.57" r="1.25" fill="#b8343b"/><circle cx="1844.27" cy="194.81" r="1.25" fill="#b8343b"/><circle cx="1845.82" cy="193.64" r="1.25" fill="#b8343b"/>
<circle cx="1846.46" cy="189.5" r="1.25" fill="#c4424a"/><circle cx="1846.1" cy="187.58" r="1.25" fill="#c4424a"/><circle cx="1847.94" cy="188.23" r="1.25" fill="#c4424a"/>
<circle cx="1851.11" cy="182.91" r="1.25" fill="#ad2f36"/><circle cx="1849.38" cy="183.81" r="1.25" fill="#ad2f36"/><circle cx="1849.46" cy="181.86" r="1.25" fill="#ad2f36"/>
<circle cx="1854.98" cy="179.45" r="1.25" fill="#c9494f"/><circle cx="1853.46" cy="178.23" r="1.25" fill="#c9494f"/><circle cx="1855.28" cy="177.52" r="1.25" fill="#c9494f"/>
<circle cx="1860.33" cy="176.53" r="1.25" fill="#b8343b"/><circle cx="1859.22" cy="174.93" r="1.25" fill="#b8343b"/><circle cx="1861.16" cy="174.77" r="1.25" fill="#b8343b"/>
<circle cx="1867.59" cy="174.48" r="1.25" fill="#c4424a"/><circle cx="1865.68" cy="174.9" r="1.25" fill="#c4424a"/><circle cx="1866.27" cy="173.04" r="1.25" fill="#c4424a"/>
<circle cx="1873.04" cy="175.8" r="1.25" fill="#ad2f36"/><circle cx="1871.86" cy="174.25" r="1.25" fill="#ad2f36"/><circle cx="1873.79" cy="174" r="1.25" fill="#ad2f36"/>
<circle cx="1879.98" cy="177.14" r="1.25" fill="#c9494f"/><circle cx="1878.19" cy="177.91" r="1.25" fill="#c9494f"/><circle cx="1878.42" cy="175.98" r="1.25" fill="#c9494f"/>
<circle cx="1883.83" cy="182.04" r="1.25" fill="#b8343b"/><circle cx="1883.02" cy="180.27" r="1.25" fill="#b8343b"/><circle cx="1884.96" cy="180.45" r="1.25" fill="#b8343b"/>
<circle cx="1887.97" cy="187.19" r="1.25" fill="#c4424a"/><circle cx="1886.62" cy="185.79" r="1.25" fill="#c4424a"/><circle cx="1888.51" cy="185.32" r="1.25" fill="#c4424a"/>
<circle cx="1889.36" cy="193.14" r="1.25" fill="#ad2f36"/><circle cx="1889.22" cy="191.2" r="1.25" fill="#ad2f36"/><circle cx="1890.97" cy="192.06" r="1.25" fill="#ad2f36"/>
<line x1="1875.5" y1="186.98" x2="1877.37" y2="188.78" stroke="#58a3b3" stroke-width="0.9"/>
<line x1="1859.65" y1="206.03" x2="1860.41" y2="208.52" stroke="#58a3b3" stroke-width="0.9"/>
<line x1="1849.52" y1="194.84" x2="1851.92" y2="195.82" stroke="#58a3b3" stroke-width="0.9"/>
<line x1="1865.03" y1="201.38" x2="1862.74" y2="202.62" stroke="#58a3b3" stroke-width="0.9"/>
<line x1="1862.46" y1="187.02" x2="1860.75" y2="188.98" stroke="#58a3b3" stroke-width="0.9"/>
<line x1="1866.54" y1="193.02" x2="1864.09" y2="193.87" stroke="#58a3b3" stroke-width="0.9"/>
<line x1="1853.67" y1="200.64" x2="1852.29" y2="202.84" stroke="#58a3b3" stroke-width="0.9"/>
<line x1="1881.08" y1="195.02" x2="1882.61" y2="197.12" stroke="#58a3b3" stroke-width="0.9"/>
<line x1="1876.2" y1="198.4" x2="1878.22" y2="200.05" stroke="#58a3b3" stroke-width="0.9"/>
<line x1="1866.55" y1="191.6" x2="1864.54" y2="193.25" stroke="#58a3b3" stroke-width="0.9"/>
<line x1="1866.62" y1="203.19" x2="1866.08" y2="205.73" stroke="#58a3b3" stroke-width="0.9"/>
<line x1="1865.4" y1="187.86" x2="1865.52" y2="190.45" stroke="#58a3b3" stroke-width="0.9"/>
<line x1="1864" y1="210.36" x2="1863.97" y2="212.96" stroke="#58a3b3" stroke-width="0.9"/>
<line x1="1865.39" y1="185.12" x2="1867.84" y2="185.99" stroke="#58a3b3" stroke-width="0.9"/>
<line x1="1852.95" y1="186.4" x2="1854.23" y2="188.66" stroke="#58a3b3" stroke-width="0.9"/>
<line x1="1860.49" y1="210.12" x2="1858.31" y2="211.55" stroke="#58a3b3" stroke-width="0.9"/>
<text x="1730.3" y="255.8" font-size="29.5" font-weight="bold" textLength="111" lengthAdjust="spacingAndGlyphs" stroke="#000" stroke-width="0.5">Postive?</text>
<text x="1730.3" y="289.3" font-size="29.5" font-weight="bold" textLength="129.5" lengthAdjust="spacingAndGlyphs" stroke="#000" stroke-width="0.5">Negative?</text>
<text y="56" font-size="37" font-weight="bold"><tspan x="809.5" textLength="102" lengthAdjust="spacingAndGlyphs">Group</tspan><tspan x="925" textLength="18.5" lengthAdjust="spacingAndGlyphs"> I</tspan></text>
<text y="56" font-size="37" font-weight="bold"><tspan x="1047.5" textLength="102" lengthAdjust="spacingAndGlyphs">Group</tspan><tspan x="1158" textLength="29" lengthAdjust="spacingAndGlyphs"> II</tspan></text>
<text y="56" font-size="37" font-weight="bold"><tspan x="1272.5" textLength="102" lengthAdjust="spacingAndGlyphs">Group</tspan><tspan x="1377" textLength="39.5" lengthAdjust="spacingAndGlyphs"> III</tspan></text>
<text x="878.5" y="456" font-size="29" font-weight="bold" text-anchor="middle" textLength="137" lengthAdjust="spacingAndGlyphs">Untrained</text>
<text x="878.5" y="489.6" font-size="29" font-weight="bold" text-anchor="middle" textLength="133.5" lengthAdjust="spacingAndGlyphs">individual</text>
<text x="1118.5" y="456" font-size="29" font-weight="bold" text-anchor="middle" textLength="98" lengthAdjust="spacingAndGlyphs">Human</text>
<text x="1118.5" y="488.5" font-size="29" font-weight="bold" text-anchor="middle" textLength="87.6" lengthAdjust="spacingAndGlyphs">expert</text>
<text y="456.1" font-size="30.5" stroke="#000" stroke-width="1.2" stroke-linejoin="round"><tspan x="1285.6" textLength="106" lengthAdjust="spacingAndGlyphs">SMART</tspan><tspan x="1392" textLength="18.5" lengthAdjust="spacingAndGlyphs" dy="-9.2" font-size="19" stroke-width="0.85">AI</tspan></text>
<text x="1349" y="490.3" font-size="30.5" text-anchor="middle" textLength="67.5" lengthAdjust="spacingAndGlyphs" stroke="#000" stroke-width="1.2" stroke-linejoin="round">-LFA</text>
<text x="333.7" y="456.2" font-size="29" font-weight="bold" text-anchor="middle" textLength="247.4" lengthAdjust="spacingAndGlyphs">Image acquisition</text>
<text x="334" y="491.2" font-size="29" font-weight="bold" text-anchor="middle" textLength="382" lengthAdjust="spacingAndGlyphs">under various surroundings</text>
</g>
<g id="pb">
<text x="3.5" y="601" font-size="53" font-weight="bold" textLength="30" lengthAdjust="spacingAndGlyphs">b</text>
<rect x="133.5" y="624.4" width="345.9" height="344.4" fill="#fff" stroke="#000" stroke-width="1.9"/>
<line x1="149.4" y1="953.2" x2="463" y2="640.1" stroke="#a6a6a6" stroke-width="3.4" stroke-dasharray="15 7"/>
<path d="M149.4 953.2 L192.68 724.95 L463 640.1" fill="none" stroke="#deb645" stroke-width="4" stroke-linejoin="miter" stroke-linecap="round"/>
<path d="M149.4 953.2 L149.4 640.1 L463 640.1" fill="none" stroke="#e1575c" stroke-width="4" stroke-linejoin="miter" stroke-linecap="round"/>
<path d="M149.4 953.2 L185.78 692.7 L463 640.1" fill="none" stroke="#80b4e8" stroke-width="4" stroke-linejoin="miter" stroke-linecap="round"/>
<line x1="149.4" y1="968.8" x2="149.4" y2="980.8" stroke="#000" stroke-width="1.8"/>
<line x1="121.5" y1="953.2" x2="133.5" y2="953.2" stroke="#000" stroke-width="1.8"/>
<line x1="227.8" y1="968.8" x2="227.8" y2="980.8" stroke="#000" stroke-width="1.8"/>
<line x1="121.5" y1="874.93" x2="133.5" y2="874.93" stroke="#000" stroke-width="1.8"/>
<line x1="306.2" y1="968.8" x2="306.2" y2="980.8" stroke="#000" stroke-width="1.8"/>
<line x1="121.5" y1="796.65" x2="133.5" y2="796.65" stroke="#000" stroke-width="1.8"/>
<line x1="384.6" y1="968.8" x2="384.6" y2="980.8" stroke="#000" stroke-width="1.8"/>
<line x1="121.5" y1="718.38" x2="133.5" y2="718.38" stroke="#000" stroke-width="1.8"/>
<line x1="463" y1="968.8" x2="463" y2="980.8" stroke="#000" stroke-width="1.8"/>
<line x1="121.5" y1="640.1" x2="133.5" y2="640.1" stroke="#000" stroke-width="1.8"/>
<text x="149.4" y="1020.8" font-size="31" text-anchor="middle" textLength="15.5" lengthAdjust="spacingAndGlyphs" stroke="#000" stroke-width="0.35">0</text>
<text x="117" y="965.8" font-size="31" text-anchor="end" textLength="15.5" lengthAdjust="spacingAndGlyphs" stroke="#000" stroke-width="0.35">0</text>
<text x="227.8" y="1020.8" font-size="31" text-anchor="middle" textLength="31.5" lengthAdjust="spacingAndGlyphs" stroke="#000" stroke-width="0.35">25</text>
<text x="117" y="887.53" font-size="31" text-anchor="end" textLength="31.5" lengthAdjust="spacingAndGlyphs" stroke="#000" stroke-width="0.35">25</text>
<text x="306.2" y="1020.8" font-size="31" text-anchor="middle" textLength="31.5" lengthAdjust="spacingAndGlyphs" stroke="#000" stroke-width="0.35">50</text>
<text x="117" y="809.25" font-size="31" text-anchor="end" textLength="31.5" lengthAdjust="spacingAndGlyphs" stroke="#000" stroke-width="0.35">50</text>
<text x="384.6" y="1020.8" font-size="31" text-anchor="middle" textLength="31.5" lengthAdjust="spacingAndGlyphs" stroke="#000" stroke-width="0.35">75</text>
<text x="117" y="730.98" font-size="31" text-anchor="end" textLength="31.5" lengthAdjust="spacingAndGlyphs" stroke="#000" stroke-width="0.35">75</text>
<text x="463" y="1020.8" font-size="31" text-anchor="middle" textLength="47.5" lengthAdjust="spacingAndGlyphs" stroke="#000" stroke-width="0.35">100</text>
<text x="117" y="652.7" font-size="31" text-anchor="end" textLength="47.5" lengthAdjust="spacingAndGlyphs" stroke="#000" stroke-width="0.35">100</text>
<text x="307.3" y="1073" font-size="44.5" font-weight="bold" text-anchor="middle" textLength="336" lengthAdjust="spacingAndGlyphs">100-Specificity %</text>
<text x="49.5" y="786.8" font-size="46" font-weight="bold" text-anchor="middle" textLength="256" lengthAdjust="spacingAndGlyphs" transform="rotate(-90 49.5 786.8)">Sensitivity %</text>
<line x1="260.8" y1="860.6" x2="306" y2="860.6" stroke="#deb645" stroke-width="4"/>
<line x1="260.8" y1="903" x2="306" y2="903" stroke="#80b4e8" stroke-width="4"/>
<line x1="260.8" y1="946.6" x2="306" y2="946.6" stroke="#e1575c" stroke-width="4"/>
<text x="309.5" y="867.2" font-size="23.5" textLength="110.5" lengthAdjust="spacingAndGlyphs" stroke="#000" stroke-width="1.0" stroke-linejoin="round">Untrained</text>
<text x="310.8" y="909.2" font-size="23.5" textLength="158.5" lengthAdjust="spacingAndGlyphs" stroke="#000" stroke-width="1.0" stroke-linejoin="round">Human expert</text>
<text y="950.9" font-size="23.5" stroke="#000" stroke-width="0.9" stroke-linejoin="round"><tspan x="312.8" textLength="84" lengthAdjust="spacingAndGlyphs">SMART</tspan><tspan x="397.3" textLength="15.5" lengthAdjust="spacingAndGlyphs" dy="-6.2" font-size="14.5" stroke-width="0.6">AI</tspan><tspan x="413.8" textLength="53.5" lengthAdjust="spacingAndGlyphs" dy="6.2">-LFA</tspan></text>
</g>
<g id="pc">
<text x="514.5" y="600.5" font-size="53" font-weight="bold" textLength="29" lengthAdjust="spacingAndGlyphs">c</text>
<rect x="531.2" y="624.2" width="601.5" height="6.3" fill="#000"/>
<rect x="531.2" y="709.8" width="601.5" height="5" fill="#000"/>
<rect x="531.2" y="964.5" width="601.5" height="6.3" fill="#000"/>
<line x1="531.2" y1="797.5" x2="1132.7" y2="797.5" stroke="#000" stroke-width="1.4"/>
<line x1="531.2" y1="882.6" x2="1132.7" y2="882.6" stroke="#000" stroke-width="1.4"/>
<line x1="689.4" y1="627" x2="689.4" y2="968" stroke="#000" stroke-width="1.4"/>
<line x1="831.8" y1="627" x2="831.8" y2="968" stroke="#000" stroke-width="1.4"/>
<line x1="982.3" y1="627" x2="982.3" y2="968" stroke="#000" stroke-width="1.4"/>
<text x="760.6" y="677.4" font-size="26" font-weight="bold" text-anchor="middle" textLength="115" lengthAdjust="spacingAndGlyphs">Accuracy</text>
<text x="907" y="677.4" font-size="26" font-weight="bold" text-anchor="middle" textLength="131" lengthAdjust="spacingAndGlyphs">Sensitivity</text>
<text x="1057.9" y="677.4" font-size="26" font-weight="bold" text-anchor="middle" textLength="132" lengthAdjust="spacingAndGlyphs">Specificity</text>
<text x="610" y="747.2" font-size="26" font-weight="bold" text-anchor="middle" textLength="125" lengthAdjust="spacingAndGlyphs">Untrained</text>
<text x="610" y="777.3" font-size="26" font-weight="bold" text-anchor="middle" textLength="122" lengthAdjust="spacingAndGlyphs">individual</text>
<text x="760.6" y="763" font-size="26" font-weight="bold" text-anchor="middle" textLength="72" lengthAdjust="spacingAndGlyphs">77.3%</text>
<text x="907" y="763" font-size="26" font-weight="bold" text-anchor="middle" textLength="72" lengthAdjust="spacingAndGlyphs">72.9%</text>
<text x="1057.9" y="763" font-size="26" font-weight="bold" text-anchor="middle" textLength="72" lengthAdjust="spacingAndGlyphs">86.0%</text>
<text x="610" y="832.3" font-size="26" font-weight="bold" text-anchor="middle" textLength="90" lengthAdjust="spacingAndGlyphs">Human</text>
<text x="610" y="861.7" font-size="26" font-weight="bold" text-anchor="middle" textLength="79" lengthAdjust="spacingAndGlyphs">expert</text>
<text x="760.6" y="847.4" font-size="26" font-weight="bold" text-anchor="middle" textLength="72" lengthAdjust="spacingAndGlyphs">84.7%</text>
<text x="907" y="847.4" font-size="26" font-weight="bold" text-anchor="middle" textLength="72" lengthAdjust="spacingAndGlyphs">83.0%</text>
<text x="1057.9" y="847.4" font-size="26" font-weight="bold" text-anchor="middle" textLength="72" lengthAdjust="spacingAndGlyphs">88.2%</text>
<text y="917" font-size="27" stroke="#000" stroke-width="1.1" stroke-linejoin="round"><tspan x="553.6" textLength="95" lengthAdjust="spacingAndGlyphs">SMART</tspan><tspan x="649.2" textLength="16.8" lengthAdjust="spacingAndGlyphs" dy="-7.9" font-size="17.7" stroke-width="0.75">AI</tspan></text>
<text x="610.5" y="947.8" font-size="27" text-anchor="middle" textLength="61.5" lengthAdjust="spacingAndGlyphs" stroke="#000" stroke-width="1.1" stroke-linejoin="round">-LFA</text>
<text x="760.6" y="932.5" font-size="26" font-weight="bold" text-anchor="middle" textLength="64" lengthAdjust="spacingAndGlyphs">100%</text>
<text x="907" y="932.5" font-size="26" font-weight="bold" text-anchor="middle" textLength="64" lengthAdjust="spacingAndGlyphs">100%</text>
<text x="1057.9" y="932.5" font-size="26" font-weight="bold" text-anchor="middle" textLength="64" lengthAdjust="spacingAndGlyphs">100%</text>
</g>
<g id="pd">
<text x="1156" y="601" font-size="53" font-weight="bold" textLength="30.5" lengthAdjust="spacingAndGlyphs">d</text>
<rect x="1182" y="623.7" width="792.3" height="6.6" fill="#000"/>
<rect x="1182" y="759.9" width="792.3" height="5" fill="#000"/>
<rect x="1182" y="1014.3" width="792.3" height="6.4" fill="#000"/>
<line x1="1502" y1="700" x2="1974.3" y2="700" stroke="#000" stroke-width="1.4"/>
<line x1="1182" y1="847.3" x2="1974.3" y2="847.3" stroke="#000" stroke-width="1.4"/>
<line x1="1182" y1="932.2" x2="1974.3" y2="932.2" stroke="#000" stroke-width="1.4"/>
<line x1="1502" y1="627" x2="1502" y2="1017" stroke="#000" stroke-width="1.4"/>
<line x1="1659.5" y1="700" x2="1659.5" y2="1017" stroke="#000" stroke-width="1.4"/>
<line x1="1816.9" y1="700" x2="1816.9" y2="1017" stroke="#000" stroke-width="1.4"/>
<text x="1341.8" y="687" font-size="26" font-weight="bold" text-anchor="middle" textLength="62" lengthAdjust="spacingAndGlyphs">Case</text>
<text x="1341.8" y="717.9" font-size="26" font-weight="bold" text-anchor="middle" textLength="116" lengthAdjust="spacingAndGlyphs">(positive)</text>
<text x="1738.7" y="670.8" font-size="26" font-weight="bold" text-anchor="middle" textLength="94" lengthAdjust="spacingAndGlyphs">Answer</text>
<text x="1580.8" y="722.9" font-size="26" font-weight="bold" text-anchor="middle" textLength="125" lengthAdjust="spacingAndGlyphs">Untrained</text>
<text x="1580.8" y="754" font-size="26" font-weight="bold" text-anchor="middle" textLength="122" lengthAdjust="spacingAndGlyphs">individual</text>
<text x="1738.2" y="722.9" font-size="26" font-weight="bold" text-anchor="middle" textLength="90" lengthAdjust="spacingAndGlyphs">Human</text>
<text x="1738.2" y="754" font-size="26" font-weight="bold" text-anchor="middle" textLength="79" lengthAdjust="spacingAndGlyphs">expert</text>
<text y="722.8" font-size="27" stroke="#000" stroke-width="1.1" stroke-linejoin="round"><tspan x="1839.4" textLength="95" lengthAdjust="spacingAndGlyphs">SMART</tspan><tspan x="1934.6" textLength="16.8" lengthAdjust="spacingAndGlyphs" dy="-7.5" font-size="17.7" stroke-width="0.75">AI</tspan></text>
<text x="1896.1" y="753.7" font-size="27" text-anchor="middle" textLength="61.5" lengthAdjust="spacingAndGlyphs" stroke="#000" stroke-width="1.1" stroke-linejoin="round">-LFA</text>
<text x="1580.8" y="813.2" font-size="28" font-weight="bold" text-anchor="middle" textLength="19" lengthAdjust="spacingAndGlyphs">O</text>
<text x="1738.2" y="813.2" font-size="28" font-weight="bold" text-anchor="middle" textLength="19" lengthAdjust="spacingAndGlyphs">O</text>
<text x="1895.6" y="813.2" font-size="28" font-weight="bold" text-anchor="middle" textLength="19" lengthAdjust="spacingAndGlyphs">O</text>
<text x="1580.8" y="898.8" font-size="28" font-weight="bold" text-anchor="middle" textLength="17.5" lengthAdjust="spacingAndGlyphs">X</text>
<text x="1738.2" y="898.8" font-size="28" font-weight="bold" text-anchor="middle" textLength="19" lengthAdjust="spacingAndGlyphs">O</text>
<text x="1895.6" y="898.8" font-size="28" font-weight="bold" text-anchor="middle" textLength="19" lengthAdjust="spacingAndGlyphs">O</text>
<text x="1580.8" y="983.8" font-size="28" font-weight="bold" text-anchor="middle" textLength="17.5" lengthAdjust="spacingAndGlyphs">X</text>
<text x="1738.2" y="983.8" font-size="28" font-weight="bold" text-anchor="middle" textLength="17.5" lengthAdjust="spacingAndGlyphs">X</text>
<text x="1895.6" y="983.8" font-size="28" font-weight="bold" text-anchor="middle" textLength="19" lengthAdjust="spacingAndGlyphs">O</text>
<g>
<rect x="1201.7" y="771.2" width="287.3" height="62" fill="url(#sb_bg)"/>
<clipPath id="sb_cl"><rect x="1209" y="773" width="272.3" height="57.8" rx="28.9"/></clipPath>
<rect x="1209" y="773" width="272.3" height="57.8" fill="url(#sb_win)" rx="28.9"/>
<g clip-path="url(#sb_cl)">
<rect x="1299.3" y="773" width="12.7" height="57.8" fill="#7a4585" opacity="0.95" filter="url(#blur1)"/>
<rect x="1393.5" y="773" width="8" height="57.8" fill="#9a6fb4" opacity="0.75" filter="url(#blur1)"/>
<rect x="1209" y="773" width="272.3" height="57.8" fill="none" stroke="#5e6f95" stroke-width="4" rx="28.9" opacity="0.55" filter="url(#blur2)"/>
</g>
</g>
<g>
<rect x="1201.7" y="856.3" width="287.3" height="62.2" fill="url(#st_bg)"/>
<clipPath id="st_cl"><rect x="1205.4" y="858.5" width="273.6" height="56.9" rx="28.45"/></clipPath>
<rect x="1205.4" y="858.5" width="273.6" height="56.9" fill="url(#st_win)" rx="28.45"/>
<g clip-path="url(#st_cl)">
<rect x="1298" y="858.5" width="12" height="56.9" fill="#8d3835" opacity="0.95" filter="url(#blur1)"/>
<rect x="1205.4" y="858.5" width="273.6" height="56.9" fill="none" stroke="#6d5a40" stroke-width="4" rx="28.45" opacity="0.45" filter="url(#blur2)"/>
</g>
</g>
<g>
<rect x="1201.7" y="942.1" width="287.3" height="61.9" fill="url(#sw_bg)"/>
<clipPath id="sw_cl"><rect x="1212" y="946" width="269.8" height="57.5" rx="28.75"/></clipPath>
<rect x="1212" y="946" width="269.8" height="57.5" fill="url(#sw_win)" rx="28.75"/>
<g clip-path="url(#sw_cl)">
<rect x="1303" y="946" width="12" height="57.5" fill="#cf7396" opacity="0.95" filter="url(#blur1)"/>
<rect x="1212" y="946" width="269.8" height="57.5" fill="none" stroke="#8a8a8a" stroke-width="4" rx="28.75" opacity="0.6" filter="url(#blur2)"/>
</g>
</g>
</g>
<g id="pe">
<text x="1.5" y="1203" font-size="53" font-weight="bold" textLength="29" lengthAdjust="spacingAndGlyphs">e</text>
<g>
<rect x="37.6" y="1268.2" width="224.3" height="50.2" fill="url(#et_bg)"/>
<clipPath id="et_cl"><rect x="40" y="1269.5" width="214.8" height="46.7" rx="23.35"/></clipPath>
<rect x="40" y="1269.5" width="214.8" height="46.7" fill="url(#et_win)" rx="23.35"/>
<g clip-path="url(#et_cl)">
<rect x="112.8" y="1269.5" width="9.2" height="46.7" fill="#93383a" opacity="0.95" filter="url(#blur1)"/>
<rect x="40" y="1269.5" width="214.8" height="46.7" fill="none" stroke="#6d5a40" stroke-width="3.5" rx="23.35" opacity="0.45" filter="url(#blur2)"/>
</g>
</g>
<g>
<rect x="31.5" y="1462.7" width="223.3" height="49.8" fill="url(#ew_bg)"/>
<clipPath id="ew_cl"><rect x="39" y="1466.5" width="211" height="45.2" rx="22.6"/></clipPath>
<rect x="39" y="1466.5" width="211" height="45.2" fill="url(#ew_win)" rx="22.6"/>
<g clip-path="url(#ew_cl)">
<rect x="110" y="1466.5" width="9.6" height="45.2" fill="#cf7799" opacity="0.95" filter="url(#blur1)"/>
<rect x="39" y="1466.5" width="211" height="45.2" fill="none" stroke="#8a8a8a" stroke-width="3.5" rx="22.6" opacity="0.6" filter="url(#blur2)"/>
</g>
</g>
<rect x="287" y="1250.6" width="272.7" height="88.1" fill="url(#eg1)"/>
<rect x="287" y="1250.6" width="272.7" height="88.1" fill="#888" filter="url(#noise)" opacity="0.3"/>
<rect x="321" y="1250.6" width="33" height="88.1" fill="#030303"/>
<rect x="287" y="1250.6" width="272.7" height="88.1" fill="url(#egt1)"/>
<rect x="289" y="1445.8" width="274" height="88.1" fill="url(#eg2)"/>
<rect x="289" y="1445.8" width="274" height="88.1" fill="url(#egt)"/>
<rect x="98.2" y="1267.8" width="115.9" height="50.6" fill="none" stroke="#1a71c6" stroke-width="3.2" stroke-dasharray="2.9 2.9"/>
<rect x="287" y="1250.6" width="272.7" height="88.1" fill="none" stroke="#1a71c6" stroke-width="3.2" stroke-dasharray="2.9 2.9"/>
<line x1="214.1" y1="1267.6" x2="287" y2="1250.6" stroke="#1a71c6" stroke-width="2.9" stroke-dasharray="2.9 2.9"/>
<line x1="214.1" y1="1318.4" x2="287" y2="1337.5" stroke="#1a71c6" stroke-width="2.9" stroke-dasharray="2.9 2.9"/>
<rect x="95.5" y="1462.6" width="116.2" height="50.6" fill="none" stroke="#1a71c6" stroke-width="3.2" stroke-dasharray="2.9 2.9"/>
<rect x="289" y="1445.8" width="274" height="88.1" fill="none" stroke="#1a71c6" stroke-width="3.2" stroke-dasharray="2.9 2.9"/>
<line x1="211.7" y1="1462.4" x2="289" y2="1444.5" stroke="#1a71c6" stroke-width="2.9" stroke-dasharray="2.9 2.9"/>
<line x1="211.7" y1="1513.2" x2="289" y2="1532.5" stroke="#1a71c6" stroke-width="2.9" stroke-dasharray="2.9 2.9"/>
<path d="M177.2 1244.2 L200.8 1244.2 L189 1264.2 Z" fill="#1a71c6"/>
<path d="M484.5 1222.2 L508.1 1222.2 L496.3 1242.2 Z" fill="#1a71c6"/>
<path d="M174.9 1438.3 L198.5 1438.3 L186.7 1458.3 Z" fill="#1a71c6"/>
<path d="M482.2 1416.3 L505.8 1416.3 L494 1436.3 Z" fill="#1a71c6"/>
</g>
<g id="pf">
<text x="655" y="1178" font-size="53" font-weight="bold" textLength="16.5" lengthAdjust="spacingAndGlyphs">f</text>
<text x="956.4" y="1183.2" font-size="36" font-weight="bold" text-anchor="middle" textLength="266" lengthAdjust="spacingAndGlyphs">Cross-reactivity</text>
<rect x="785.5" y="1201.8" width="70.66" height="354.4" fill="#e1575d"/>
<rect x="856.16" y="1201.8" width="282.64" height="354.4" fill="#87b5e6"/>
<line x1="856.16" y1="1201.8" x2="856.16" y2="1556.2" stroke="#000" stroke-width="1.9"/>
<line x1="926.82" y1="1201.8" x2="926.82" y2="1556.2" stroke="#000" stroke-width="1.9"/>
<line x1="997.48" y1="1201.8" x2="997.48" y2="1556.2" stroke="#000" stroke-width="1.9"/>
<line x1="1068.14" y1="1201.8" x2="1068.14" y2="1556.2" stroke="#000" stroke-width="1.9"/>
<line x1="785.5" y1="1319.93" x2="1138.8" y2="1319.93" stroke="#000" stroke-width="1.9"/>
<line x1="785.5" y1="1438.07" x2="1138.8" y2="1438.07" stroke="#000" stroke-width="1.9"/>
<rect x="785.5" y="1201.8" width="353.3" height="354.4" fill="none" stroke="#000" stroke-width="1.9"/>
<line x1="779.5" y1="1260.87" x2="785.5" y2="1260.87" stroke="#000" stroke-width="1.8"/>
<text x="768.5" y="1273.47" font-size="31" text-anchor="end" textLength="15.5" lengthAdjust="spacingAndGlyphs" stroke="#000" stroke-width="0.35">1</text>
<line x1="779.5" y1="1379" x2="785.5" y2="1379" stroke="#000" stroke-width="1.8"/>
<text x="768.5" y="1391.6" font-size="31" text-anchor="end" textLength="15.5" lengthAdjust="spacingAndGlyphs" stroke="#000" stroke-width="0.35">2</text>
<line x1="779.5" y1="1497.13" x2="785.5" y2="1497.13" stroke="#000" stroke-width="1.8"/>
<text x="768.5" y="1509.73" font-size="31" text-anchor="end" textLength="15.5" lengthAdjust="spacingAndGlyphs" stroke="#000" stroke-width="0.35">3</text>
<line x1="820.83" y1="1556.2" x2="820.83" y2="1562.2" stroke="#000" stroke-width="1.8"/>
<text x="830.33" y="1595.2" font-size="30.5" stroke="#000" stroke-width="0.35" text-anchor="end" textLength="127" lengthAdjust="spacingAndGlyphs" transform="rotate(-45 830.33 1595.2)">COVID-19</text>
<line x1="891.49" y1="1556.2" x2="891.49" y2="1562.2" stroke="#000" stroke-width="1.8"/>
<text x="900.99" y="1595.2" font-size="30.5" stroke="#000" stroke-width="0.35" text-anchor="end" textLength="54" lengthAdjust="spacingAndGlyphs" transform="rotate(-45 900.99 1595.2)">RSV</text>
<line x1="962.15" y1="1556.2" x2="962.15" y2="1562.2" stroke="#000" stroke-width="1.8"/>
<text x="971.65" y="1595.2" font-size="30.5" stroke="#000" stroke-width="0.35" text-anchor="end" textLength="156" lengthAdjust="spacingAndGlyphs" transform="rotate(-45 971.65 1595.2)">Influenza A</text>
<line x1="1032.81" y1="1556.2" x2="1032.81" y2="1562.2" stroke="#000" stroke-width="1.8"/>
<text x="1042.31" y="1595.2" font-size="30.5" stroke="#000" stroke-width="0.35" text-anchor="end" textLength="156" lengthAdjust="spacingAndGlyphs" transform="rotate(-45 1042.31 1595.2)">Influenza B</text>
<line x1="1103.47" y1="1556.2" x2="1103.47" y2="1562.2" stroke="#000" stroke-width="1.8"/>
<text x="1112.97" y="1595.2" font-size="30.5" stroke="#000" stroke-width="0.35" text-anchor="end" textLength="80" lengthAdjust="spacingAndGlyphs" transform="rotate(-45 1112.97 1595.2)">OC 43</text>
<text x="722.8" y="1370.5" font-size="44" font-weight="bold" text-anchor="middle" textLength="355" lengthAdjust="spacingAndGlyphs" transform="rotate(-90 722.8 1370.5)">Number of sample</text>
<rect x="1189.8" y="1201.8" width="52.2" height="354.4" fill="url(#cbf)" stroke="#000" stroke-width="2"/>
<text x="1261.5" y="1570.2" font-size="31" textLength="15.5" lengthAdjust="spacingAndGlyphs" stroke="#000" stroke-width="0.35">0</text>
<line x1="1189.8" y1="1485.32" x2="1198.8" y2="1485.32" stroke="#000" stroke-width="1.8"/>
<line x1="1233" y1="1485.32" x2="1242" y2="1485.32" stroke="#000" stroke-width="1.8"/>
<text x="1261.5" y="1499.32" font-size="31" textLength="39" lengthAdjust="spacingAndGlyphs" stroke="#000" stroke-width="0.35">0.2</text>
<line x1="1189.8" y1="1414.44" x2="1198.8" y2="1414.44" stroke="#000" stroke-width="1.8"/>
<line x1="1233" y1="1414.44" x2="1242" y2="1414.44" stroke="#000" stroke-width="1.8"/>
<text x="1261.5" y="1428.44" font-size="31" textLength="39" lengthAdjust="spacingAndGlyphs" stroke="#000" stroke-width="0.35">0.4</text>
<line x1="1189.8" y1="1343.56" x2="1198.8" y2="1343.56" stroke="#000" stroke-width="1.8"/>
<line x1="1233" y1="1343.56" x2="1242" y2="1343.56" stroke="#000" stroke-width="1.8"/>
<text x="1261.5" y="1357.56" font-size="31" textLength="39" lengthAdjust="spacingAndGlyphs" stroke="#000" stroke-width="0.35">0.6</text>
<line x1="1189.8" y1="1272.68" x2="1198.8" y2="1272.68" stroke="#000" stroke-width="1.8"/>
<line x1="1233" y1="1272.68" x2="1242" y2="1272.68" stroke="#000" stroke-width="1.8"/>
<text x="1261.5" y="1286.68" font-size="31" textLength="39" lengthAdjust="spacingAndGlyphs" stroke="#000" stroke-width="0.35">0.8</text>
<text x="1261.5" y="1215.8" font-size="31" textLength="39" lengthAdjust="spacingAndGlyphs" stroke="#000" stroke-width="0.35">1.0</text>
</g>
<g id="pg">
<text x="1367" y="1178.5" font-size="53" font-weight="bold" textLength="30.5" lengthAdjust="spacingAndGlyphs">g</text>
<text x="1723.2" y="1184" font-size="36" font-weight="bold" text-anchor="middle" textLength="419" lengthAdjust="spacingAndGlyphs">Concentration prediction</text>
<rect x="1516" y="1202.4" width="44.75" height="353.4" fill="#100788"/>
<rect x="1560.45" y="1202.4" width="44.75" height="353.4" fill="#1b068d"/>
<rect x="1604.9" y="1202.4" width="44.75" height="353.4" fill="#220690"/>
<rect x="1649.35" y="1202.4" width="44.75" height="353.4" fill="#2a0593"/>
<rect x="1693.8" y="1202.4" width="44.75" height="353.4" fill="#46039f"/>
<rect x="1738.25" y="1202.4" width="44.75" height="353.4" fill="#7a02a8"/>
<rect x="1782.7" y="1202.4" width="44.45" height="21.72" fill="#b6308b"/>
<rect x="1782.7" y="1223.82" width="44.45" height="32.43" fill="#be3885"/>
<rect x="1782.7" y="1255.95" width="44.45" height="21.72" fill="#b8328a"/>
<rect x="1782.7" y="1277.36" width="44.45" height="11.01" fill="#cc4778"/>
<rect x="1782.7" y="1288.07" width="44.45" height="11.01" fill="#be3885"/>
<rect x="1782.7" y="1298.78" width="44.45" height="21.72" fill="#c8437b"/>
<rect x="1782.7" y="1320.2" width="44.45" height="11.01" fill="#b5308c"/>
<rect x="1782.7" y="1330.91" width="44.45" height="21.72" fill="#cc4a76"/>
<rect x="1782.7" y="1352.33" width="44.45" height="21.72" fill="#be3885"/>
<rect x="1782.7" y="1373.75" width="44.45" height="11.01" fill="#c23d81"/>
<rect x="1782.7" y="1384.45" width="44.45" height="11.01" fill="#be3885"/>
<rect x="1782.7" y="1395.16" width="44.45" height="32.43" fill="#c5407e"/>
<rect x="1782.7" y="1427.29" width="44.45" height="21.72" fill="#cc4778"/>
<rect x="1782.7" y="1448.71" width="44.45" height="11.01" fill="#be3885"/>
<rect x="1782.7" y="1459.42" width="44.45" height="21.72" fill="#cf4c74"/>
<rect x="1782.7" y="1480.84" width="44.45" height="11.01" fill="#be3885"/>
<rect x="1782.7" y="1491.55" width="44.45" height="32.43" fill="#c8437b"/>
<rect x="1782.7" y="1523.67" width="44.45" height="11.01" fill="#b8328a"/>
<rect x="1782.7" y="1534.38" width="44.45" height="11.01" fill="#c5407e"/>
<rect x="1782.7" y="1545.09" width="44.45" height="11.01" fill="#cf4c74"/>
<rect x="1827.15" y="1202.4" width="44.45" height="21.72" fill="#fccd25"/>
<rect x="1827.15" y="1223.82" width="44.45" height="32.43" fill="#fdae32"/>
<rect x="1827.15" y="1255.95" width="44.45" height="11.01" fill="#fccd25"/>
<rect x="1827.15" y="1266.65" width="44.45" height="11.01" fill="#fdba2c"/>
<rect x="1827.15" y="1277.36" width="44.45" height="21.72" fill="#fccd25"/>
<rect x="1827.15" y="1298.78" width="44.45" height="11.01" fill="#fdae32"/>
<rect x="1827.15" y="1309.49" width="44.45" height="11.01" fill="#fdba2c"/>
<rect x="1827.15" y="1320.2" width="44.45" height="11.01" fill="#fccd25"/>
<rect x="1827.15" y="1330.91" width="44.45" height="11.01" fill="#fdba2c"/>
<rect x="1827.15" y="1341.62" width="44.45" height="32.43" fill="#fccd25"/>
<rect x="1827.15" y="1373.75" width="44.45" height="21.72" fill="#fdae32"/>
<rect x="1827.15" y="1395.16" width="44.45" height="11.01" fill="#fccd25"/>
<rect x="1827.15" y="1405.87" width="44.45" height="32.43" fill="#fdba2c"/>
<rect x="1827.15" y="1438" width="44.45" height="21.72" fill="#fccd25"/>
<rect x="1827.15" y="1459.42" width="44.45" height="11.01" fill="#fdba2c"/>
<rect x="1827.15" y="1470.13" width="44.45" height="32.43" fill="#f0f921"/>
<rect x="1827.15" y="1502.25" width="44.45" height="32.43" fill="#f7e225"/>
<rect x="1827.15" y="1534.38" width="44.45" height="11.01" fill="#fdba2c"/>
<rect x="1827.15" y="1545.09" width="44.45" height="11.01" fill="#f7e225"/>
<line x1="1516" y1="1213.11" x2="1871.6" y2="1213.11" stroke="#fff" stroke-width="0.6" opacity="0.1"/>
<line x1="1516" y1="1223.82" x2="1871.6" y2="1223.82" stroke="#fff" stroke-width="0.6" opacity="0.1"/>
<line x1="1516" y1="1234.53" x2="1871.6" y2="1234.53" stroke="#fff" stroke-width="0.6" opacity="0.1"/>
<line x1="1516" y1="1245.24" x2="1871.6" y2="1245.24" stroke="#fff" stroke-width="0.6" opacity="0.1"/>
<line x1="1516" y1="1255.95" x2="1871.6" y2="1255.95" stroke="#fff" stroke-width="0.6" opacity="0.1"/>
<line x1="1516" y1="1266.65" x2="1871.6" y2="1266.65" stroke="#fff" stroke-width="0.6" opacity="0.1"/>
<line x1="1516" y1="1277.36" x2="1871.6" y2="1277.36" stroke="#fff" stroke-width="0.6" opacity="0.1"/>
<line x1="1516" y1="1288.07" x2="1871.6" y2="1288.07" stroke="#fff" stroke-width="0.6" opacity="0.1"/>
<line x1="1516" y1="1298.78" x2="1871.6" y2="1298.78" stroke="#fff" stroke-width="0.6" opacity="0.1"/>
<line x1="1516" y1="1309.49" x2="1871.6" y2="1309.49" stroke="#fff" stroke-width="0.6" opacity="0.1"/>
<line x1="1516" y1="1320.2" x2="1871.6" y2="1320.2" stroke="#fff" stroke-width="0.6" opacity="0.1"/>
<line x1="1516" y1="1330.91" x2="1871.6" y2="1330.91" stroke="#fff" stroke-width="0.6" opacity="0.1"/>
<line x1="1516" y1="1341.62" x2="1871.6" y2="1341.62" stroke="#fff" stroke-width="0.6" opacity="0.1"/>
<line x1="1516" y1="1352.33" x2="1871.6" y2="1352.33" stroke="#fff" stroke-width="0.6" opacity="0.1"/>
<line x1="1516" y1="1363.04" x2="1871.6" y2="1363.04" stroke="#fff" stroke-width="0.6" opacity="0.1"/>
<line x1="1516" y1="1373.75" x2="1871.6" y2="1373.75" stroke="#fff" stroke-width="0.6" opacity="0.1"/>
<line x1="1516" y1="1384.45" x2="1871.6" y2="1384.45" stroke="#fff" stroke-width="0.6" opacity="0.1"/>
<line x1="1516" y1="1395.16" x2="1871.6" y2="1395.16" stroke="#fff" stroke-width="0.6" opacity="0.1"/>
<line x1="1516" y1="1405.87" x2="1871.6" y2="1405.87" stroke="#fff" stroke-width="0.6" opacity="0.1"/>
<line x1="1516" y1="1416.58" x2="1871.6" y2="1416.58" stroke="#fff" stroke-width="0.6" opacity="0.1"/>
<line x1="1516" y1="1427.29" x2="1871.6" y2="1427.29" stroke="#fff" stroke-width="0.6" opacity="0.1"/>
<line x1="1516" y1="1438" x2="1871.6" y2="1438" stroke="#fff" stroke-width="0.6" opacity="0.1"/>
<line x1="1516" y1="1448.71" x2="1871.6" y2="1448.71" stroke="#fff" stroke-width="0.6" opacity="0.1"/>
<line x1="1516" y1="1459.42" x2="1871.6" y2="1459.42" stroke="#fff" stroke-width="0.6" opacity="0.1"/>
<line x1="1516" y1="1470.13" x2="1871.6" y2="1470.13" stroke="#fff" stroke-width="0.6" opacity="0.1"/>
<line x1="1516" y1="1480.84" x2="1871.6" y2="1480.84" stroke="#fff" stroke-width="0.6" opacity="0.1"/>
<line x1="1516" y1="1491.55" x2="1871.6" y2="1491.55" stroke="#fff" stroke-width="0.6" opacity="0.1"/>
<line x1="1516" y1="1502.25" x2="1871.6" y2="1502.25" stroke="#fff" stroke-width="0.6" opacity="0.1"/>
<line x1="1516" y1="1512.96" x2="1871.6" y2="1512.96" stroke="#fff" stroke-width="0.6" opacity="0.1"/>
<line x1="1516" y1="1523.67" x2="1871.6" y2="1523.67" stroke="#fff" stroke-width="0.6" opacity="0.1"/>
<line x1="1516" y1="1534.38" x2="1871.6" y2="1534.38" stroke="#fff" stroke-width="0.6" opacity="0.1"/>
<line x1="1516" y1="1545.09" x2="1871.6" y2="1545.09" stroke="#fff" stroke-width="0.6" opacity="0.1"/>
<line x1="1560.45" y1="1202.4" x2="1560.45" y2="1555.8" stroke="#fff" stroke-width="0.6" opacity="0.15"/>
<line x1="1604.9" y1="1202.4" x2="1604.9" y2="1555.8" stroke="#fff" stroke-width="0.6" opacity="0.15"/>
<line x1="1649.35" y1="1202.4" x2="1649.35" y2="1555.8" stroke="#fff" stroke-width="0.6" opacity="0.15"/>
<line x1="1693.8" y1="1202.4" x2="1693.8" y2="1555.8" stroke="#fff" stroke-width="0.6" opacity="0.15"/>
<line x1="1738.25" y1="1202.4" x2="1738.25" y2="1555.8" stroke="#fff" stroke-width="0.6" opacity="0.15"/>
<line x1="1782.7" y1="1202.4" x2="1782.7" y2="1555.8" stroke="#fff" stroke-width="0.6" opacity="0.15"/>
<line x1="1827.15" y1="1202.4" x2="1827.15" y2="1555.8" stroke="#fff" stroke-width="0.6" opacity="0.15"/>
<rect x="1516" y="1202.4" width="355.6" height="353.4" fill="none" stroke="#000" stroke-width="1.9"/>
<line x1="1510" y1="1207.75" x2="1516" y2="1207.75" stroke="#000" stroke-width="1.8"/>
<text x="1499.5" y="1220.35" font-size="31" text-anchor="end" textLength="15.5" lengthAdjust="spacingAndGlyphs" stroke="#000" stroke-width="0.35">1</text>
<line x1="1510" y1="1250.59" x2="1516" y2="1250.59" stroke="#000" stroke-width="1.8"/>
<text x="1499.5" y="1263.19" font-size="31" text-anchor="end" textLength="15.5" lengthAdjust="spacingAndGlyphs" stroke="#000" stroke-width="0.35">5</text>
<line x1="1510" y1="1293.43" x2="1516" y2="1293.43" stroke="#000" stroke-width="1.8"/>
<text x="1499.5" y="1306.03" font-size="31" text-anchor="end" textLength="15.5" lengthAdjust="spacingAndGlyphs" stroke="#000" stroke-width="0.35">9</text>
<line x1="1510" y1="1336.26" x2="1516" y2="1336.26" stroke="#000" stroke-width="1.8"/>
<text x="1499.5" y="1348.86" font-size="31" text-anchor="end" textLength="31.5" lengthAdjust="spacingAndGlyphs" stroke="#000" stroke-width="0.35">13</text>
<line x1="1510" y1="1379.1" x2="1516" y2="1379.1" stroke="#000" stroke-width="1.8"/>
<text x="1499.5" y="1391.7" font-size="31" text-anchor="end" textLength="31.5" lengthAdjust="spacingAndGlyphs" stroke="#000" stroke-width="0.35">17</text>
<line x1="1510" y1="1421.94" x2="1516" y2="1421.94" stroke="#000" stroke-width="1.8"/>
<text x="1499.5" y="1434.54" font-size="31" text-anchor="end" textLength="31.5" lengthAdjust="spacingAndGlyphs" stroke="#000" stroke-width="0.35">21</text>
<line x1="1510" y1="1464.77" x2="1516" y2="1464.77" stroke="#000" stroke-width="1.8"/>
<text x="1499.5" y="1477.37" font-size="31" text-anchor="end" textLength="31.5" lengthAdjust="spacingAndGlyphs" stroke="#000" stroke-width="0.35">25</text>
<line x1="1510" y1="1507.61" x2="1516" y2="1507.61" stroke="#000" stroke-width="1.8"/>
<text x="1499.5" y="1520.21" font-size="31" text-anchor="end" textLength="31.5" lengthAdjust="spacingAndGlyphs" stroke="#000" stroke-width="0.35">29</text>
<line x1="1510" y1="1550.45" x2="1516" y2="1550.45" stroke="#000" stroke-width="1.8"/>
<text x="1499.5" y="1563.05" font-size="31" text-anchor="end" textLength="31.5" lengthAdjust="spacingAndGlyphs" stroke="#000" stroke-width="0.35">33</text>
<line x1="1538.22" y1="1555.8" x2="1538.22" y2="1561.8" stroke="#000" stroke-width="1.8"/>
<text x="1549.22" y="1571.5" font-size="31" stroke="#000" stroke-width="0.35" text-anchor="end" textLength="15.5" lengthAdjust="spacingAndGlyphs" transform="rotate(-90 1549.22 1571.5)">0</text>
<line x1="1582.67" y1="1555.8" x2="1582.67" y2="1561.8" stroke="#000" stroke-width="1.8"/>
<text x="1593.67" y="1571.5" font-size="31" stroke="#000" stroke-width="0.35" text-anchor="end" textLength="39" lengthAdjust="spacingAndGlyphs" transform="rotate(-90 1593.67 1571.5)">0.8</text>
<line x1="1627.12" y1="1555.8" x2="1627.12" y2="1561.8" stroke="#000" stroke-width="1.8"/>
<text x="1638.12" y="1571.5" font-size="31" stroke="#000" stroke-width="0.35" text-anchor="end" textLength="55" lengthAdjust="spacingAndGlyphs" transform="rotate(-90 1638.12 1571.5)">0.16</text>
<line x1="1671.58" y1="1555.8" x2="1671.58" y2="1561.8" stroke="#000" stroke-width="1.8"/>
<text x="1682.58" y="1571.5" font-size="31" stroke="#000" stroke-width="0.35" text-anchor="end" textLength="55" lengthAdjust="spacingAndGlyphs" transform="rotate(-90 1682.58 1571.5)">0.31</text>
<line x1="1716.02" y1="1555.8" x2="1716.02" y2="1561.8" stroke="#000" stroke-width="1.8"/>
<text x="1727.02" y="1571.5" font-size="31" stroke="#000" stroke-width="0.35" text-anchor="end" textLength="55" lengthAdjust="spacingAndGlyphs" transform="rotate(-90 1727.02 1571.5)">0.62</text>
<line x1="1760.47" y1="1555.8" x2="1760.47" y2="1561.8" stroke="#000" stroke-width="1.8"/>
<text x="1771.47" y="1571.5" font-size="31" stroke="#000" stroke-width="0.35" text-anchor="end" textLength="55" lengthAdjust="spacingAndGlyphs" transform="rotate(-90 1771.47 1571.5)">1.25</text>
<line x1="1804.92" y1="1555.8" x2="1804.92" y2="1561.8" stroke="#000" stroke-width="1.8"/>
<text x="1815.92" y="1571.5" font-size="31" stroke="#000" stroke-width="0.35" text-anchor="end" textLength="39" lengthAdjust="spacingAndGlyphs" transform="rotate(-90 1815.92 1571.5)">2.5</text>
<line x1="1849.38" y1="1555.8" x2="1849.38" y2="1561.8" stroke="#000" stroke-width="1.8"/>
<text x="1860.38" y="1571.5" font-size="31" stroke="#000" stroke-width="0.35" text-anchor="end" textLength="15.5" lengthAdjust="spacingAndGlyphs" transform="rotate(-90 1860.38 1571.5)">5</text>
<text x="1439.5" y="1379.5" font-size="44" font-weight="bold" text-anchor="middle" textLength="353" lengthAdjust="spacingAndGlyphs" transform="rotate(-90 1439.5 1379.5)">Number of sample</text>
<text x="1745.3" y="1688.6" font-size="45.5" font-weight="bold" text-anchor="middle" textLength="441" lengthAdjust="spacingAndGlyphs">Concentration (ng/mL)</text>
<rect x="1905.9" y="1202.4" width="52.9" height="353.4" fill="url(#cbg)" stroke="#000" stroke-width="2"/>
<text x="1977" y="1569.2" font-size="31" textLength="15.5" lengthAdjust="spacingAndGlyphs" stroke="#000" stroke-width="0.35">0</text>
<line x1="1905.9" y1="1491.1" x2="1914.9" y2="1491.1" stroke="#000" stroke-width="1.8"/>
<line x1="1949.8" y1="1491.1" x2="1958.8" y2="1491.1" stroke="#000" stroke-width="1.8"/>
<text x="1977" y="1505.1" font-size="31" textLength="15.5" lengthAdjust="spacingAndGlyphs" stroke="#000" stroke-width="0.35">1</text>
<line x1="1905.9" y1="1427" x2="1914.9" y2="1427" stroke="#000" stroke-width="1.8"/>
<line x1="1949.8" y1="1427" x2="1958.8" y2="1427" stroke="#000" stroke-width="1.8"/>
<text x="1977" y="1441" font-size="31" textLength="15.5" lengthAdjust="spacingAndGlyphs" stroke="#000" stroke-width="0.35">2</text>
<line x1="1905.9" y1="1362.9" x2="1914.9" y2="1362.9" stroke="#000" stroke-width="1.8"/>
<line x1="1949.8" y1="1362.9" x2="1958.8" y2="1362.9" stroke="#000" stroke-width="1.8"/>
<text x="1977" y="1376.9" font-size="31" textLength="15.5" lengthAdjust="spacingAndGlyphs" stroke="#000" stroke-width="0.35">3</text>
<line x1="1905.9" y1="1298.8" x2="1914.9" y2="1298.8" stroke="#000" stroke-width="1.8"/>
<line x1="1949.8" y1="1298.8" x2="1958.8" y2="1298.8" stroke="#000" stroke-width="1.8"/>
<text x="1977" y="1312.8" font-size="31" textLength="15.5" lengthAdjust="spacingAndGlyphs" stroke="#000" stroke-width="0.35">4</text>
<line x1="1905.9" y1="1234.7" x2="1914.9" y2="1234.7" stroke="#000" stroke-width="1.8"/>
<line x1="1949.8" y1="1234.7" x2="1958.8" y2="1234.7" stroke="#000" stroke-width="1.8"/>
<text x="1977" y="1248.7" font-size="31" textLength="15.5" lengthAdjust="spacingAndGlyphs" stroke="#000" stroke-width="0.35">5</text>
</g>
<g id="ph">
<text x="3.5" y="1804" font-size="53" font-weight="bold" textLength="30" lengthAdjust="spacingAndGlyphs">h</text>
<text y="1825.6" font-size="30" stroke="#000" stroke-width="1.2" stroke-linejoin="round"><tspan x="274.3" textLength="109" lengthAdjust="spacingAndGlyphs">Patient </tspan><tspan x="385.5" stroke-width="0.3">(</tspan><tspan x="395.5" textLength="167.5" lengthAdjust="spacingAndGlyphs">Female, 33y</tspan><tspan x="564.5" stroke-width="0.3">)</tspan></text>
<rect x="257.9" y="1843" width="513.9" height="342.7" fill="#fff" stroke="#000" stroke-width="1.9"/>
<line x1="241.9" y1="2185.7" x2="257.9" y2="2185.7" stroke="#000" stroke-width="1.7"/>
<text x="237" y="2195" font-size="30" text-anchor="end" textLength="57" lengthAdjust="spacingAndGlyphs">0.00</text>
<line x1="241.9" y1="2107.9" x2="257.9" y2="2107.9" stroke="#000" stroke-width="1.7"/>
<text x="237" y="2117.2" font-size="30" text-anchor="end" textLength="57" lengthAdjust="spacingAndGlyphs">0.25</text>
<line x1="241.9" y1="2030.1" x2="257.9" y2="2030.1" stroke="#000" stroke-width="1.7"/>
<text x="237" y="2039.4" font-size="30" text-anchor="end" textLength="57" lengthAdjust="spacingAndGlyphs">0.50</text>
<line x1="241.9" y1="1952.3" x2="257.9" y2="1952.3" stroke="#000" stroke-width="1.7"/>
<text x="237" y="1961.6" font-size="30" text-anchor="end" textLength="57" lengthAdjust="spacingAndGlyphs">0.75</text>
<line x1="241.9" y1="1874.5" x2="257.9" y2="1874.5" stroke="#000" stroke-width="1.7"/>
<text x="237" y="1883.8" font-size="30" text-anchor="end" textLength="57" lengthAdjust="spacingAndGlyphs">1.00</text>
<rect x="290.3" y="2170.9" width="63" height="14.8" fill="#1f4283" stroke="#0a1020" stroke-width="1.3"/>
<line x1="321.8" y1="2185.7" x2="321.8" y2="2201.7" stroke="#000" stroke-width="1.7"/>
<text x="321.8" y="2231.2" font-size="30" text-anchor="middle" textLength="55" lengthAdjust="spacingAndGlyphs">1/16</text>
<rect x="386.6" y="2151.4" width="62.5" height="34.3" fill="#1f4283" stroke="#0a1020" stroke-width="1.3"/>
<line x1="417.85" y1="2185.7" x2="417.85" y2="2201.7" stroke="#000" stroke-width="1.7"/>
<text x="417.85" y="2231.2" font-size="30" text-anchor="middle" textLength="39.5" lengthAdjust="spacingAndGlyphs">1/8</text>
<rect x="482.9" y="2122.7" width="63" height="63" fill="#1f4283" stroke="#0a1020" stroke-width="1.3"/>
<line x1="514.4" y1="2185.7" x2="514.4" y2="2201.7" stroke="#000" stroke-width="1.7"/>
<text x="514.4" y="2231.2" font-size="30" text-anchor="middle" textLength="39.5" lengthAdjust="spacingAndGlyphs">1/4</text>
<rect x="579.2" y="2102.3" width="63" height="83.4" fill="#1f4283" stroke="#0a1020" stroke-width="1.3"/>
<line x1="610.7" y1="2185.7" x2="610.7" y2="2201.7" stroke="#000" stroke-width="1.7"/>
<text x="610.7" y="2231.2" font-size="30" text-anchor="middle" textLength="39.5" lengthAdjust="spacingAndGlyphs">1/2</text>
<rect x="675.5" y="1875" width="63" height="310.7" fill="#1f4283" stroke="#0a1020" stroke-width="1.3"/>
<line x1="707" y1="2185.7" x2="707" y2="2201.7" stroke="#000" stroke-width="1.7"/>
<text x="707" y="2231.2" font-size="30" text-anchor="middle" textLength="16" lengthAdjust="spacingAndGlyphs">1</text>
<line x1="257.9" y1="2185.7" x2="771.8" y2="2185.7" stroke="#000" stroke-width="1.9"/>
<text x="517" y="2297.3" font-size="38" font-weight="bold" text-anchor="middle" textLength="246" lengthAdjust="spacingAndGlyphs">Dilution ratio</text>
<text x="104" y="2014.7" font-size="39.5" font-weight="bold" text-anchor="middle" textLength="213.5" lengthAdjust="spacingAndGlyphs" transform="rotate(-90 104 2014.7)">Normalized</text>
<text x="151.3" y="2012.7" font-size="39.5" font-weight="bold" text-anchor="middle" textLength="394" lengthAdjust="spacingAndGlyphs" transform="rotate(-90 151.3 2012.7)">intensity (arb. units.)</text>
</g>
<g id="pi">
<text x="895.5" y="1803.5" font-size="53" font-weight="bold" textLength="13.5" lengthAdjust="spacingAndGlyphs">i</text>
<text y="1835.7" font-size="30" stroke="#000" stroke-width="1.2" stroke-linejoin="round"><tspan x="1104.3" textLength="112" lengthAdjust="spacingAndGlyphs">Patient </tspan><tspan x="1214.8" stroke-width="0.3">(</tspan><tspan x="1226" textLength="132.5" lengthAdjust="spacingAndGlyphs">Male, 27y</tspan><tspan x="1360" stroke-width="0.3">)</tspan></text>
<rect x="1084" y="1847.4" width="829.7" height="165.9" fill="#fff" stroke="#000" stroke-width="1.9"/>
<line x1="1071.5" y1="1847.4" x2="1084" y2="1847.4" stroke="#000" stroke-width="1.7"/>
<text x="1067.5" y="1861.6" font-size="31" text-anchor="end" textLength="33" lengthAdjust="spacingAndGlyphs">30</text>
<line x1="1071.5" y1="1930.35" x2="1084" y2="1930.35" stroke="#000" stroke-width="1.7"/>
<text x="1067.5" y="1944.55" font-size="31" text-anchor="end" textLength="33" lengthAdjust="spacingAndGlyphs">35</text>
<line x1="1071.5" y1="2013.3" x2="1084" y2="2013.3" stroke="#000" stroke-width="1.7"/>
<text x="1067.5" y="2027.5" font-size="31" text-anchor="end" textLength="33" lengthAdjust="spacingAndGlyphs">40</text>
<line x1="1153" y1="2013.3" x2="1153" y2="2024.8" stroke="#000" stroke-width="1.7"/>
<line x1="1229.85" y1="2013.3" x2="1229.85" y2="2024.8" stroke="#000" stroke-width="1.7"/>
<line x1="1306.7" y1="2013.3" x2="1306.7" y2="2024.8" stroke="#000" stroke-width="1.7"/>
<line x1="1383.55" y1="2013.3" x2="1383.55" y2="2024.8" stroke="#000" stroke-width="1.7"/>
<line x1="1460.4" y1="2013.3" x2="1460.4" y2="2024.8" stroke="#000" stroke-width="1.7"/>
<line x1="1537.25" y1="2013.3" x2="1537.25" y2="2024.8" stroke="#000" stroke-width="1.7"/>
<line x1="1614.1" y1="2013.3" x2="1614.1" y2="2024.8" stroke="#000" stroke-width="1.7"/>
<line x1="1690.95" y1="2013.3" x2="1690.95" y2="2024.8" stroke="#000" stroke-width="1.7"/>
<line x1="1767.8" y1="2013.3" x2="1767.8" y2="2024.8" stroke="#000" stroke-width="1.7"/>
<line x1="1844.65" y1="2013.3" x2="1844.65" y2="2024.8" stroke="#000" stroke-width="1.7"/>
<path d="M1172.6 1904.4 C1205 1891 1242 1876.6 1279 1877.2 C1318 1877.8 1358 1885 1400 1898.6 C1430 1908 1456 1917.5 1484 1927.5 C1512 1937.5 1540 1947 1568 1956.5 C1600 1967 1635 1972.5 1668.8 1976 C1700 1979.5 1735 1982.5 1760 1978.4" fill="none" stroke="#2f4f93" stroke-width="4.3" stroke-dasharray="13.5 6"/>
<circle cx="1153" cy="1898.9" r="10.4" fill="#1f4283" stroke="#000" stroke-width="1.5"/>
<circle cx="1306.5" cy="1862.7" r="10.4" fill="#1f4283" stroke="#000" stroke-width="1.5"/>
<circle cx="1460.5" cy="1953.5" r="10.4" fill="#1f4283" stroke="#000" stroke-width="1.5"/>
<circle cx="1614" cy="1960.6" r="10.4" fill="#1f4283" stroke="#000" stroke-width="1.5"/>
<circle cx="1767.9" cy="1975.4" r="10.4" fill="#1f4283" stroke="#000" stroke-width="1.5"/>
<text x="1167.8" y="1946" font-size="27.5" font-weight="bold" text-anchor="middle" textLength="70.5" lengthAdjust="spacingAndGlyphs">33.09</text>
<text x="1311.1" y="1920.6" font-size="27.5" font-weight="bold" text-anchor="middle" textLength="70.5" lengthAdjust="spacingAndGlyphs">30.93</text>
<text x="1465.2" y="1994.9" font-size="27.5" font-weight="bold" text-anchor="middle" textLength="70.5" lengthAdjust="spacingAndGlyphs">36.36</text>
<text x="1609.2" y="1936.1" font-size="27.5" font-weight="bold" text-anchor="middle" textLength="70.5" lengthAdjust="spacingAndGlyphs">36.79</text>
<text x="1762.5" y="1949.5" font-size="27.5" font-weight="bold" text-anchor="middle" textLength="70.5" lengthAdjust="spacingAndGlyphs">37.70</text>
<text x="1010.2" y="1925.4" font-size="44" font-weight="bold" text-anchor="middle" textLength="152" lengthAdjust="spacingAndGlyphs" transform="rotate(-90 1010.2 1925.4)">Ct value</text>
<rect x="1083.3" y="2060" width="833.4" height="165.7" fill="#fff" stroke="#000" stroke-width="1.9"/>
<line x1="1065.8" y1="2225.7" x2="1083.3" y2="2225.7" stroke="#000" stroke-width="1.7"/>
<text x="1062" y="2236.7" font-size="31" text-anchor="end" textLength="16.5" lengthAdjust="spacingAndGlyphs">0</text>
<line x1="1065.8" y1="2170.47" x2="1083.3" y2="2170.47" stroke="#000" stroke-width="1.7"/>
<text x="1062" y="2181.47" font-size="31" text-anchor="end" textLength="16.5" lengthAdjust="spacingAndGlyphs">2</text>
<line x1="1065.8" y1="2115.23" x2="1083.3" y2="2115.23" stroke="#000" stroke-width="1.7"/>
<text x="1062" y="2126.23" font-size="31" text-anchor="end" textLength="16.5" lengthAdjust="spacingAndGlyphs">4</text>
<line x1="1065.8" y1="2060" x2="1083.3" y2="2060" stroke="#000" stroke-width="1.7"/>
<text x="1062" y="2071" font-size="31" text-anchor="end" textLength="16.5" lengthAdjust="spacingAndGlyphs">6</text>
<rect x="1109.7" y="2191.3" width="54.4" height="34.4" fill="#c4192c" stroke="#000" stroke-width="1.4"/>
<line x1="1136.9" y1="2225.7" x2="1136.9" y2="2242.7" stroke="#000" stroke-width="1.7"/>
<text x="1136.9" y="2272.3" font-size="31" text-anchor="middle" textLength="16.5" lengthAdjust="spacingAndGlyphs">0</text>
<rect x="1190.3" y="2136" width="54.4" height="89.7" fill="#c4192c" stroke="#000" stroke-width="1.4"/>
<line x1="1217.5" y1="2225.7" x2="1217.5" y2="2242.7" stroke="#000" stroke-width="1.7"/>
<text x="1217.5" y="2272.3" font-size="31" text-anchor="middle" textLength="16.5" lengthAdjust="spacingAndGlyphs">1</text>
<rect x="1270.9" y="2080.2" width="54.4" height="145.5" fill="#c4192c" stroke="#000" stroke-width="1.4"/>
<line x1="1298.1" y1="2225.7" x2="1298.1" y2="2242.7" stroke="#000" stroke-width="1.7"/>
<text x="1298.1" y="2272.3" font-size="31" text-anchor="middle" textLength="16.5" lengthAdjust="spacingAndGlyphs">2</text>
<rect x="1351.5" y="2219.7" width="54.4" height="6" fill="#c4192c" stroke="#000" stroke-width="1.4"/>
<line x1="1378.7" y1="2225.7" x2="1378.7" y2="2242.7" stroke="#000" stroke-width="1.7"/>
<text x="1378.7" y="2272.3" font-size="31" text-anchor="middle" textLength="16.5" lengthAdjust="spacingAndGlyphs">3</text>
<rect x="1432.1" y="2219.3" width="54.4" height="6.4" fill="#c4192c" stroke="#000" stroke-width="1.4"/>
<line x1="1459.3" y1="2225.7" x2="1459.3" y2="2242.7" stroke="#000" stroke-width="1.7"/>
<text x="1459.3" y="2272.3" font-size="31" text-anchor="middle" textLength="16.5" lengthAdjust="spacingAndGlyphs">4</text>
<rect x="1512.7" y="2217.6" width="54.4" height="8.1" fill="#c4192c" stroke="#000" stroke-width="1.4"/>
<line x1="1539.9" y1="2225.7" x2="1539.9" y2="2242.7" stroke="#000" stroke-width="1.7"/>
<text x="1539.9" y="2272.3" font-size="31" text-anchor="middle" textLength="16.5" lengthAdjust="spacingAndGlyphs">5</text>
<line x1="1620.5" y1="2225.7" x2="1620.5" y2="2242.7" stroke="#000" stroke-width="1.7"/>
<text x="1620.5" y="2272.3" font-size="31" text-anchor="middle" textLength="16.5" lengthAdjust="spacingAndGlyphs">6</text>
<rect x="1673.9" y="2219.6" width="54.4" height="6.1" fill="#c4192c" stroke="#000" stroke-width="1.4"/>
<line x1="1701.1" y1="2225.7" x2="1701.1" y2="2242.7" stroke="#000" stroke-width="1.7"/>
<text x="1701.1" y="2272.3" font-size="31" text-anchor="middle" textLength="16.5" lengthAdjust="spacingAndGlyphs">7</text>
<rect x="1754.5" y="2218.3" width="54.4" height="7.4" fill="#c4192c" stroke="#000" stroke-width="1.4"/>
<line x1="1781.7" y1="2225.7" x2="1781.7" y2="2242.7" stroke="#000" stroke-width="1.7"/>
<text x="1781.7" y="2272.3" font-size="31" text-anchor="middle" textLength="16.5" lengthAdjust="spacingAndGlyphs">8</text>
<rect x="1835.1" y="2218.3" width="54.4" height="7.4" fill="#c4192c" stroke="#000" stroke-width="1.4"/>
<line x1="1862.3" y1="2225.7" x2="1862.3" y2="2242.7" stroke="#000" stroke-width="1.7"/>
<text x="1862.3" y="2272.3" font-size="31" text-anchor="middle" textLength="16.5" lengthAdjust="spacingAndGlyphs">9</text>
<line x1="1083.3" y1="2225.7" x2="1916.7" y2="2225.7" stroke="#000" stroke-width="1.9"/>
<text x="917.5" y="2144.5" font-size="40.5" font-weight="bold" text-anchor="middle" textLength="191" lengthAdjust="spacingAndGlyphs" transform="rotate(-90 917.5 2144.5)">Prediction</text>
<text x="964.6" y="2145" font-size="40.5" font-weight="bold" text-anchor="middle" textLength="85.5" lengthAdjust="spacingAndGlyphs" transform="rotate(-90 964.6 2145)">level</text>
<text x="1014.1" y="2144.5" font-size="40.5" font-weight="bold" text-anchor="middle" textLength="211.5" lengthAdjust="spacingAndGlyphs" transform="rotate(-90 1014.1 2144.5)">(arb. units.)</text>
<text x="1498" y="2324" font-size="40" font-weight="bold" text-anchor="middle" textLength="512" lengthAdjust="spacingAndGlyphs">After symptoms start (Day)</text>
</g>
</svg>
</body>
</html>
